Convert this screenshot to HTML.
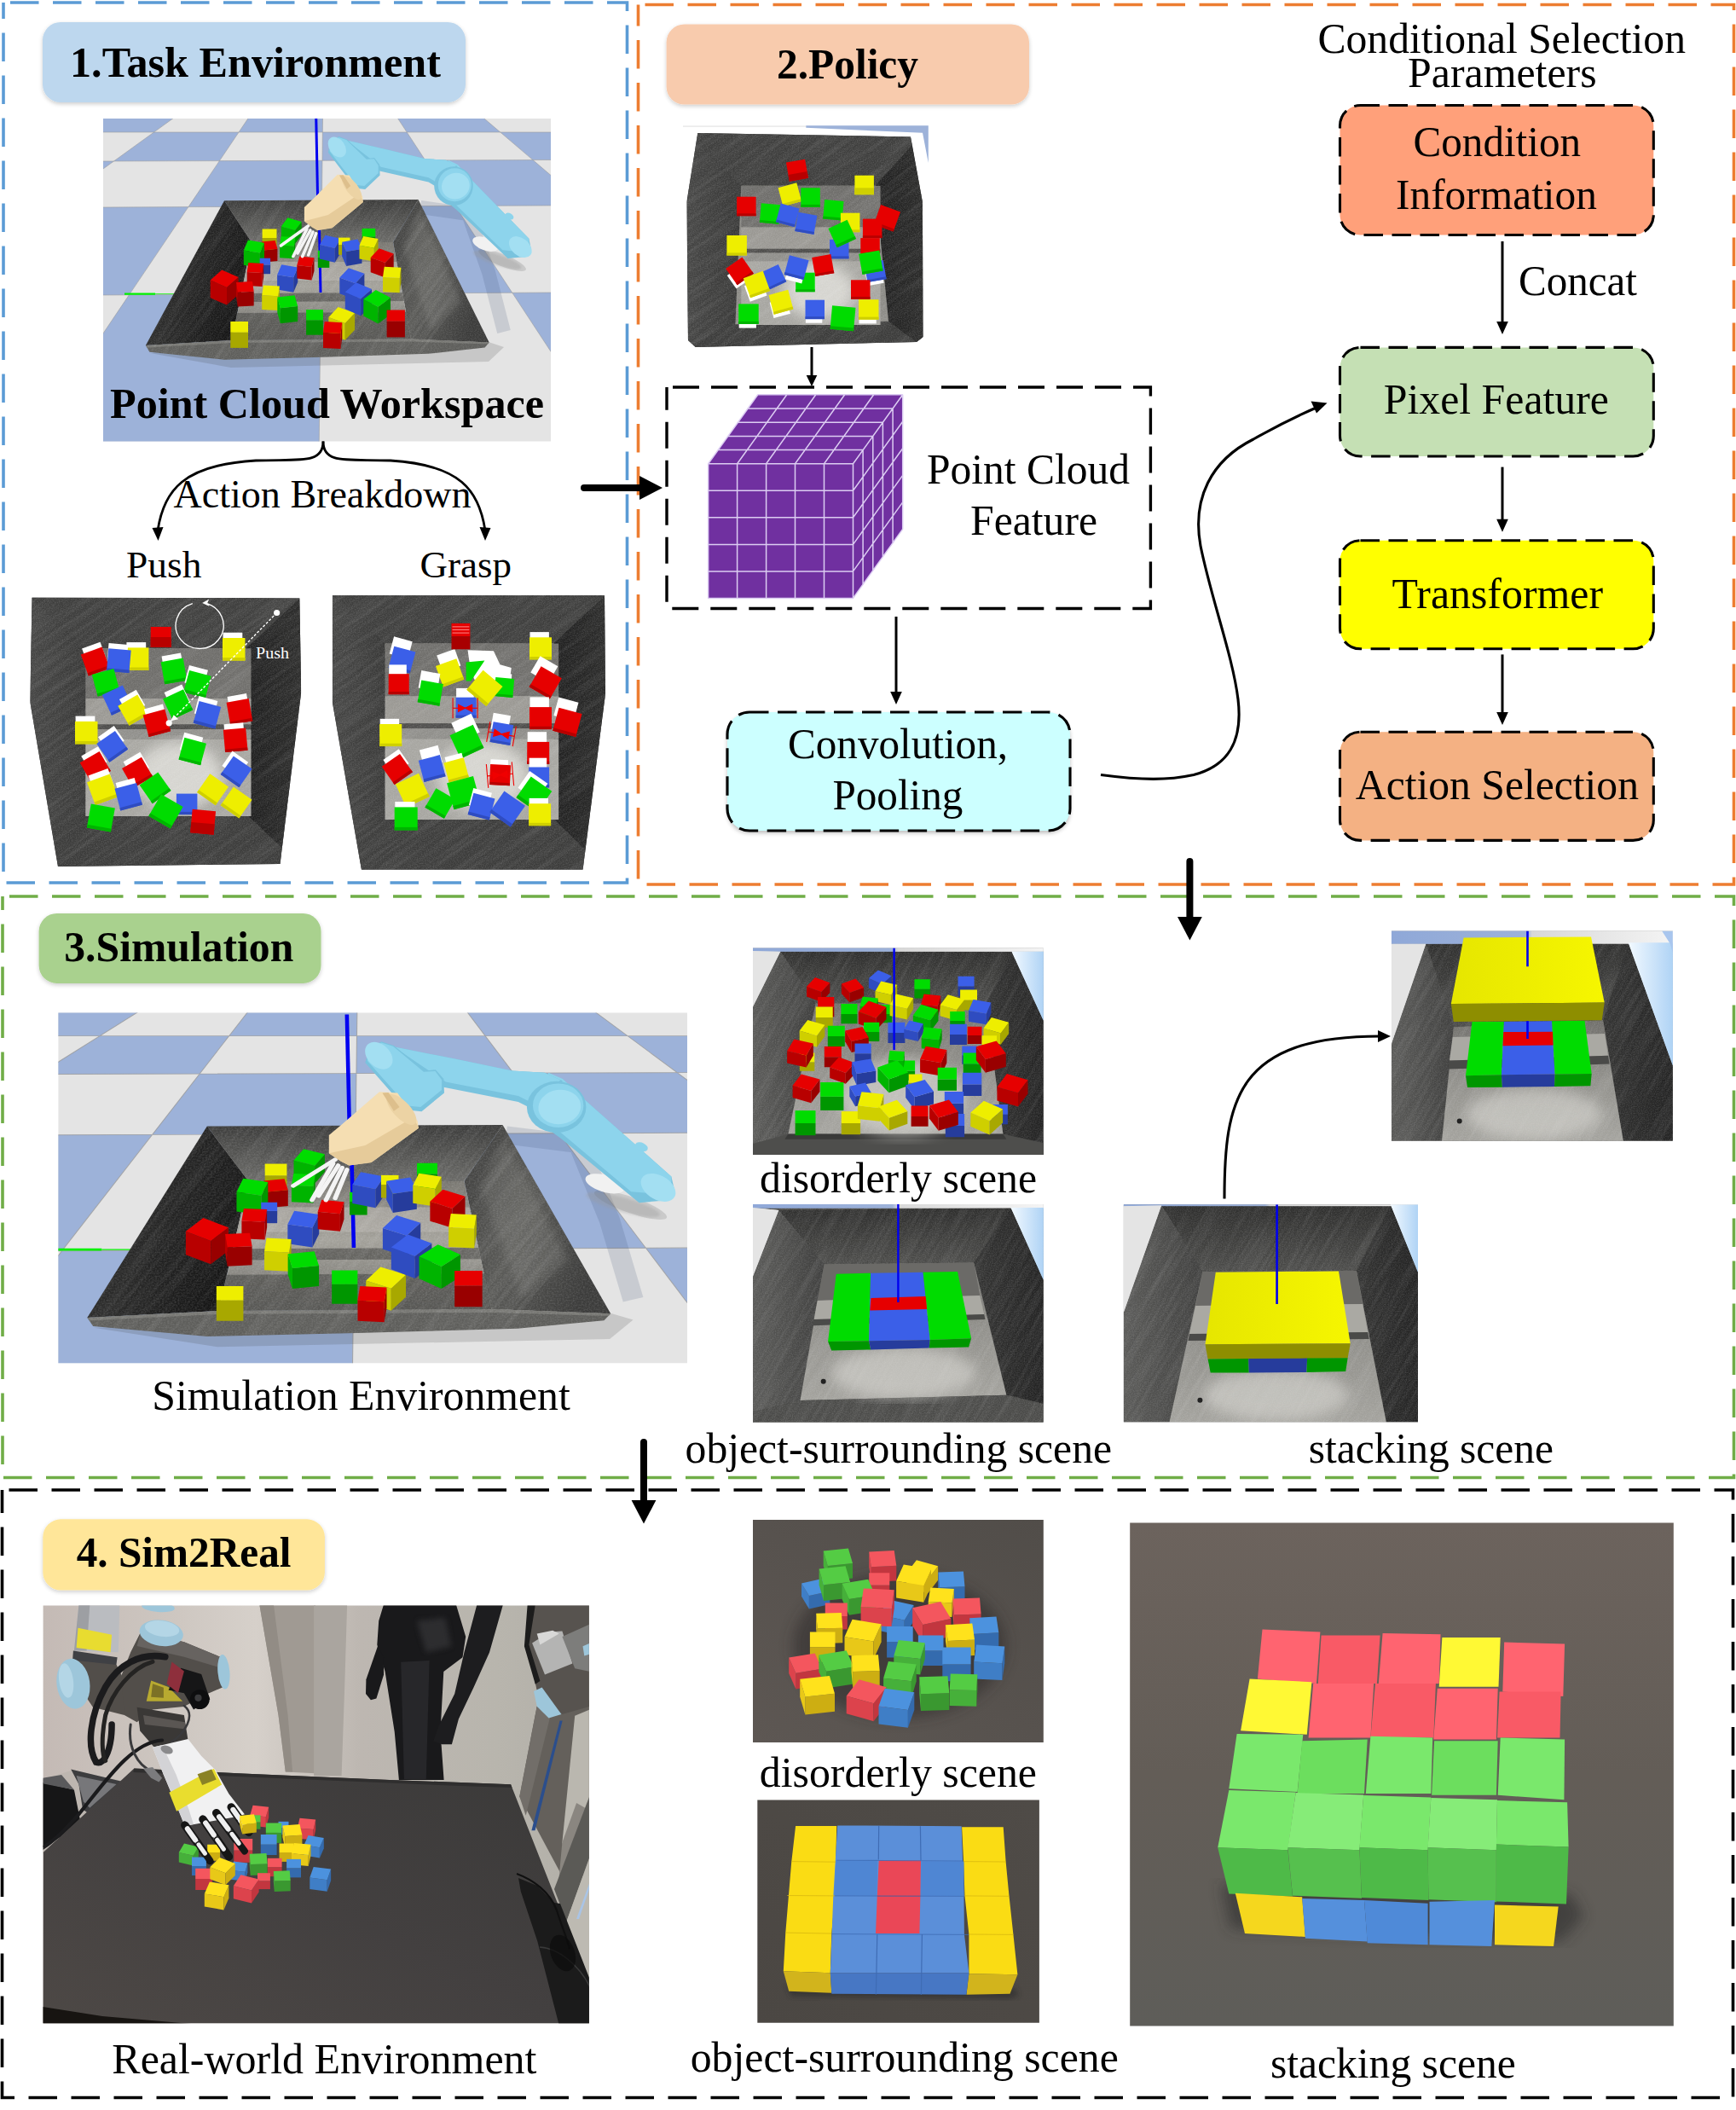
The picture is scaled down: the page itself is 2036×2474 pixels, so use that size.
<!DOCTYPE html>
<html><head><meta charset="utf-8"><title>Framework</title>
<style>html,body{margin:0;padding:0;background:#fff}svg{display:block}text{font-family:'Liberation Serif', 'Times New Roman', serif;white-space:pre}</style>
</head><body>
<svg width="2036" height="2474" viewBox="0 0 2036 2474">
<defs>
<filter id="sh" x="-5%" y="-10%" width="110%" height="125%"><feGaussianBlur in="SourceAlpha" stdDeviation="2.4"/><feOffset dy="2" result="b"/><feComponentTransfer><feFuncA type="linear" slope="0.2"/></feComponentTransfer><feMerge><feMergeNode/><feMergeNode in="SourceGraphic"/></feMerge></filter>
<filter id="sh2" x="-5%" y="-10%" width="110%" height="125%"><feGaussianBlur in="SourceAlpha" stdDeviation="2.5"/><feOffset dy="3"/><feComponentTransfer><feFuncA type="linear" slope="0.25"/></feComponentTransfer></filter>
<filter id="tex" x="0" y="0" width="100%" height="100%"><feTurbulence type="fractalNoise" baseFrequency="0.05 0.5" numOctaves="2" seed="3"/><feColorMatrix values="0 0 0 0 1  0 0 0 0 1  0 0 0 0 1  0.9 0 0 0 -0.35"/><feComposite in2="SourceGraphic" operator="in"/></filter>
<filter id="noise" x="0" y="0" width="100%" height="100%"><feTurbulence type="fractalNoise" baseFrequency="0.75" numOctaves="2" seed="7"/><feColorMatrix type="matrix" values="0 0 0 0 1  0 0 0 0 1  0 0 0 0 1  0 0 0 1.6 -0.55"/></filter>
<filter id="streak" x="0" y="0" width="100%" height="100%"><feTurbulence type="fractalNoise" baseFrequency="0.012 0.22" numOctaves="2" seed="11"/><feColorMatrix type="matrix" values="0 0 0 0 1  0 0 0 0 1  0 0 0 0 1  0 0 0 1.8 -0.7"/></filter>
<filter id="bl1"><feGaussianBlur stdDeviation="1.2"/></filter>
<filter id="bl3"><feGaussianBlur stdDeviation="3"/></filter>
<filter id="bl8"><feGaussianBlur stdDeviation="8"/></filter>
<linearGradient id="gBack" x1="0" y1="0" x2="0" y2="1"><stop offset="0" stop-color="#3b3b3a"/><stop offset="1" stop-color="#6a6a67"/></linearGradient>
<linearGradient id="gLeft" x1="0" y1="0" x2="1" y2="0.4"><stop offset="0" stop-color="#3a3a39"/><stop offset="1" stop-color="#151515"/></linearGradient>
<linearGradient id="gRight" x1="0" y1="0" x2="1" y2="0.5"><stop offset="0" stop-color="#3a3a39"/><stop offset="0.5" stop-color="#5a5a57"/><stop offset="1" stop-color="#3c3c3b"/></linearGradient>
<linearGradient id="gFloor" x1="0" y1="0" x2="0" y2="1"><stop offset="0" stop-color="#77756f"/><stop offset="0.45" stop-color="#a3a19a"/><stop offset="1" stop-color="#6c6b67"/></linearGradient>
<clipPath id="cpE1"><rect x="121" y="139" width="525" height="378.5"/></clipPath>
<clipPath id="cpE3"><rect x="68.4" y="1187.5" width="737.6" height="410.7"/></clipPath>
<linearGradient id="gTL" x1="0" y1="0" x2="1" y2="0"><stop offset="0" stop-color="#454544"/><stop offset="1" stop-color="#373736"/></linearGradient>
<linearGradient id="gTR" x1="0" y1="0" x2="1" y2="0"><stop offset="0" stop-color="#1f1f1f"/><stop offset="1" stop-color="#2b2b2a"/></linearGradient>
<linearGradient id="gStrip" x1="0" y1="0" x2="1" y2="0"><stop offset="0" stop-color="#8FA8D8"/><stop offset="0.48" stop-color="#9DB2D9"/><stop offset="0.5" stop-color="#d8d8d8"/><stop offset="1" stop-color="#f4f4f4"/></linearGradient>
<linearGradient id="gSky" x1="0" y1="0" x2="1" y2="0"><stop offset="0" stop-color="#f2f9ff"/><stop offset="1" stop-color="#AFD3F5"/></linearGradient>
<linearGradient id="gPBack" x1="0" y1="0" x2="0" y2="1"><stop offset="0" stop-color="#2e2e2d"/><stop offset="1" stop-color="#4c4c4a"/></linearGradient>
<linearGradient id="gPL" x1="0" y1="0" x2="1" y2="0"><stop offset="0" stop-color="#5a5a58"/><stop offset="1" stop-color="#3f3f3e"/></linearGradient>
<linearGradient id="gPR" x1="0" y1="0" x2="1" y2="0"><stop offset="0" stop-color="#333332"/><stop offset="1" stop-color="#232323"/></linearGradient>
<linearGradient id="gPFloor" x1="0" y1="0" x2="0" y2="1"><stop offset="0" stop-color="#6f6e6a"/><stop offset="0.5" stop-color="#92918c"/><stop offset="1" stop-color="#a3a29d"/></linearGradient>
<linearGradient id="gYel" x1="0" y1="0" x2="1" y2="0"><stop offset="0" stop-color="#E6E600"/><stop offset="1" stop-color="#F6F600"/></linearGradient>
<clipPath id="cpPush"><polygon points="37.6,700.5 351.3,701.4 353.2,811.7 328.5,1013 68,1016 35.3,823"/></clipPath><clipPath id="cpGrasp"><polygon points="389.8,698 709,698 710,813.6 683.5,1019.8 424,1019.8 389.8,823"/></clipPath><clipPath id="cpPol"><polygon points="818.3,155.9 1068,160.4 1081.9,236.8 1082.7,394.9 1075,401 815.7,407 807,399 805.4,236.8"/></clipPath><clipPath id="cpSD"><rect x="883" y="1111.5" width="340.8" height="242.5"/></clipPath><clipPath id="cpSS"><rect x="883" y="1412" width="340.8" height="255.7"/></clipPath><clipPath id="cpS1"><rect x="1317.7" y="1412.2" width="345.3" height="255.3"/></clipPath><clipPath id="cpS2"><rect x="1631.9" y="1091.5" width="330" height="246.3"/></clipPath><linearGradient id="gWall" x1="0" y1="0" x2="1" y2="0"><stop offset="0" stop-color="#c4bab5"/><stop offset="0.23" stop-color="#cdc6c0"/><stop offset="0.39" stop-color="#d6d0ca"/><stop offset="0.58" stop-color="#bdb7b1"/><stop offset="0.83" stop-color="#b8b5ad"/><stop offset="1" stop-color="#b2afa8"/></linearGradient>
<linearGradient id="gCol" x1="0" y1="0" x2="1" y2="0"><stop offset="0" stop-color="#c8c8ca"/><stop offset="0.5" stop-color="#b2b2b4"/><stop offset="1" stop-color="#9a9a9d"/></linearGradient>
<linearGradient id="gTable" x1="1" y1="0" x2="0" y2="1"><stop offset="0" stop-color="#3a3938"/><stop offset="0.5" stop-color="#434040"/><stop offset="1" stop-color="#4e4946"/></linearGradient>
<linearGradient id="gRD" x1="0" y1="1" x2="1" y2="0"><stop offset="0" stop-color="#5d5753"/><stop offset="1" stop-color="#514d49"/></linearGradient>
<linearGradient id="gRS" x1="0" y1="1" x2="1" y2="0"><stop offset="0" stop-color="#4b4743"/><stop offset="1" stop-color="#4f4b47"/></linearGradient>
<linearGradient id="gRK" x1="0" y1="0" x2="0" y2="1"><stop offset="0" stop-color="#6c635d"/><stop offset="0.5" stop-color="#635d57"/><stop offset="1" stop-color="#5e5d59"/></linearGradient>
<clipPath id="cpRE"><rect x="50.6" y="1882.5" width="640.3" height="489.7"/></clipPath><clipPath id="cpRD"><rect x="883" y="1782" width="340.8" height="261"/></clipPath><clipPath id="cpRS"><rect x="888.3" y="2110.5" width="330.6" height="261.3"/></clipPath><clipPath id="cpRK"><rect x="1325.2" y="1785.6" width="637.6" height="589.8"/></clipPath>
</defs>
<g clip-path="url(#cpE1)"><g transform="translate(121,139)">
<rect x="-40" y="-20" width="620" height="420" fill="#E4E4E4"/>
<polygon points="93.5,-60 164.8,-60 59.5,16 -56.6,16" fill="#9DB2D9"/>
<polygon points="210.3,-60 258.2,-60 257.3,16 159,16" fill="#9DB2D9"/>
<polygon points="306.3,-60 376.6,-60 465.8,16 356.2,16" fill="#9DB2D9"/>
<polygon points="59.5,16 159,16 136.4,49.6 12.5,50" fill="#9DB2D9"/>
<polygon points="257.3,16 356.2,16 377.8,48.9 257,49.3" fill="#9DB2D9"/>
<polygon points="465.8,16 579.4,16 648.5,48.1 504,48.6" fill="#9DB2D9"/>
<polygon points="-124.5,50.4 12.5,50 -62.6,104.2 -232.1,104.9" fill="#9DB2D9"/>
<polygon points="136.4,49.6 257,49.3 256.4,103 99.9,103.6" fill="#9DB2D9"/>
<polygon points="377.8,48.9 504,48.6 566.5,101.8 412.9,102.4" fill="#9DB2D9"/>
<polygon points="-62.6,104.2 99.9,103.6 30.3,206.8 -206.6,208.2" fill="#9DB2D9"/>
<polygon points="256.4,103 412.9,102.4 479.8,204.3 255.2,205.5" fill="#9DB2D9"/>
<polygon points="566.5,101.8 762.4,101.1 978,201.4 685.2,203.1" fill="#9DB2D9"/>
<polygon points="-438.8,209.5 -206.6,208.2 -638.4,520 -1052,520" fill="#9DB2D9"/>
<polygon points="30.3,206.8 255.2,205.5 251.7,520 -180.8,520" fill="#9DB2D9"/>
<polygon points="479.8,204.3 685.2,203.1 1056.9,520 687,520" fill="#9DB2D9"/>
<path d="M164.8 -60L-638.4 520M210.3 -60L-180.8 520M258.2 -60L251.7 520M306.3 -60L687 520M376.6 -60L1056.9 520M0 16L525 16M0 50L525 48.5M0 104L525 102M0 207L525 204" stroke="#9a9a9a" stroke-width="0.7" fill="none" opacity="0.8"/>
<line x1="25" y1="205.6" x2="61" y2="205.6" stroke="#00F000" stroke-width="2.2"/>
<line x1="61" y1="205.6" x2="84" y2="205.6" stroke="#00F000" stroke-width="0.8"/>
<path d="M372 104 L428 112 L452 180 L470 250" stroke="#3a4a70" stroke-opacity="0.16" stroke-width="16" fill="none" stroke-linejoin="round"/>
<ellipse cx="468" cy="166" rx="30" ry="7" fill="#555" opacity="0.18" transform="rotate(22 468 166)"/>
<polygon points="452,262 470,268 452,285 150,292 55,275" fill="#444" opacity="0.18"/>
<polygon points="142.1,96.2 369.6,95 340,145 174,145" fill="url(#gBack)"/>
<polygon points="142.1,96.2 174,145 151,260 49.9,266.1" fill="url(#gLeft)"/>
<polygon points="369.6,95 452.7,262.5 361,258.5 340,145" fill="url(#gRight)"/>
<polygon points="174,145 340,145 361,258.5 151,260" fill="url(#gFloor)"/>
<polygon points="170,168 344,168 348,190 166,190" fill="#b9b7b0" opacity="0.55"/>
<polygon points="163,205 351,204 353,214 161,215" fill="#3c3c3a" opacity="0.55"/>
<polygon points="157,228 356,227 361,258.5 151,260" fill="#50504d" opacity="0.75"/>
<polygon points="352,150 372,110 420,215 385,250" fill="#8a8a86" opacity="0.3" filter="url(#bl3)"/>
<polygon points="49.9,266.1 151,260 361,258.5 452.7,262.5 447.6,268.5 381,275.8 257,279.7 142.1,282.8 54.4,273.7" fill="#5e5e5b"/>
<polygon points="49.9,266.1 151,260 361,258.5 452.7,262.5 451,264.5 360,261.5 152,263 52,268.5" fill="#777773"/>
<clipPath id="cpBin0"><polygon points="142.1,96.2 369.6,95 452.7,262.5 447.6,268.5 381,275.8 257,279.7 142.1,282.8 54.4,273.7 49.9,266.1"/></clipPath>
<g clip-path="url(#cpBin0)"><rect x="40" y="90" width="420" height="200" fill="#fff" filter="url(#noise)" opacity="0.15"/><rect x="0" y="40" width="520" height="300" fill="#fff" filter="url(#streak)" opacity="0.11" transform="rotate(-55 250 190)"/></g>
<line x1="253.3" y1="120" x2="255" y2="204" stroke="#0000F0" stroke-width="3"/>
<polygon points="203.5,140 186.6,140 186.6,154.7 203.5,154.7" fill="#A8A800"/>
<polygon points="203.5,140 186.6,140 186.6,129.5 203.5,129.5" fill="#EEEE00"/>
<polygon points="225.1,131.1 208.8,126.4 208.8,142.1 225.1,146.8" fill="#00B400"/>
<polygon points="232.7,121 225.1,131.1 225.1,146.8 232.7,136.7" fill="#009600"/>
<polygon points="225.1,131.1 208.8,126.4 216.4,116.3 232.7,121" fill="#00DC00"/>
<polygon points="223.9,149.5 207.1,148.6 207.1,163.3 223.9,164.2" fill="#00B400"/>
<polygon points="225.3,139.1 223.9,149.5 223.9,164.2 225.3,153.8" fill="#009600"/>
<polygon points="223.9,149.5 207.1,148.6 208.6,138.2 225.3,139.1" fill="#00DC00"/>
<polygon points="204.4,152.7 188.5,154.5 188.5,168.6 204.4,166.9" fill="#990000"/>
<polygon points="188.5,154.5 185.7,144.6 185.7,158.8 188.5,168.6" fill="#B80000"/>
<polygon points="204.4,152.7 188.5,154.5 185.7,144.6 201.6,142.9" fill="#E60000"/>
<polygon points="183.9,157.6 164.8,154.4 164.8,171.8 183.9,174.9" fill="#00B400"/>
<polygon points="189,145.8 183.9,157.6 183.9,174.9 189,163.1" fill="#009600"/>
<polygon points="183.9,157.6 164.8,154.4 169.9,142.6 189,145.8" fill="#00DC00"/>
<polygon points="196.1,171.4 183.7,171.4 183.7,182.2 196.1,182.2" fill="#263C9C"/>
<polygon points="196.1,171.4 183.7,171.4 183.7,163.7 196.1,163.7" fill="#3B5FE8"/>
<polygon points="186.6,181.1 168.7,180.1 168.7,195.9 186.6,196.9" fill="#B80000"/>
<polygon points="188.2,170 186.6,181.1 186.6,196.9 188.2,185.8" fill="#990000"/>
<polygon points="186.6,181.1 168.7,180.1 170.3,169.1 188.2,170" fill="#E60000"/>
<polygon points="145,197.9 125.7,189.5 125.7,210.2 145,218.6" fill="#B80000"/>
<polygon points="158.6,186 145,197.9 145,218.6 158.6,206.6" fill="#990000"/>
<polygon points="145,197.9 125.7,189.5 139.2,177.6 158.6,186" fill="#E60000"/>
<polygon points="176.7,202.7 157.7,203.7 157.7,220.4 176.7,219.4" fill="#990000"/>
<polygon points="157.7,203.7 156,191.9 156,208.6 157.7,220.4" fill="#B80000"/>
<polygon points="176.7,202.7 157.7,203.7 156,191.9 175,190.9" fill="#E60000"/>
<polygon points="223.2,186.3 204.1,183.2 204.1,200.5 223.2,203.7" fill="#2F4CC0"/>
<polygon points="228.3,174.5 223.2,186.3 223.2,203.7 228.3,191.8" fill="#263C9C"/>
<polygon points="223.2,186.3 204.1,183.2 209.2,171.3 228.3,174.5" fill="#3B5FE8"/>
<polygon points="244.5,174 227.3,172.1 227.3,187.5 244.5,189.4" fill="#B80000"/>
<polygon points="247.5,163.3 244.5,174 244.5,189.4 247.5,178.7" fill="#990000"/>
<polygon points="244.5,174 227.3,172.1 230.3,161.4 247.5,163.3" fill="#E60000"/>
<polygon points="265.3,163.1 251.8,163.1 251.8,174.9 265.3,174.9" fill="#009600"/>
<polygon points="265.3,163.1 251.8,163.1 251.8,154.7 265.3,154.7" fill="#00DC00"/>
<polygon points="205.2,208.2 186.2,207.2 186.2,223.9 205.2,225" fill="#CFCF00"/>
<polygon points="206.9,196.4 205.2,208.2 205.2,225 206.9,213.2" fill="#A8A800"/>
<polygon points="205.2,208.2 186.2,207.2 187.9,195.4 206.9,196.4" fill="#EEEE00"/>
<polygon points="228.2,219.9 207.8,222.2 207.8,240.3 228.2,238" fill="#009600"/>
<polygon points="207.8,222.2 204.3,209.5 204.3,227.6 207.8,240.3" fill="#00B400"/>
<polygon points="228.2,219.9 207.8,222.2 204.3,209.5 224.6,207.3" fill="#00DC00"/>
<polygon points="257.9,236.4 238.1,236.4 238.1,253.7 257.9,253.7" fill="#009600"/>
<polygon points="257.9,236.4 238.1,236.4 238.1,224.1 257.9,224.1" fill="#00DC00"/>
<polygon points="283.8,240.1 264.4,233.1 264.4,252.8 283.8,259.8" fill="#CFCF00"/>
<polygon points="295.1,228 283.8,240.1 283.8,259.8 295.1,247.7" fill="#A8A800"/>
<polygon points="283.8,240.1 264.4,233.1 275.6,221.1 295.1,228" fill="#EEEE00"/>
<polygon points="278.5,251.9 258,250.8 258,268.9 278.5,270" fill="#B80000"/>
<polygon points="280.3,239.2 278.5,251.9 278.5,270 280.3,257.3" fill="#990000"/>
<polygon points="278.5,251.9 258,250.8 259.8,238 280.3,239.2" fill="#E60000"/>
<polygon points="170,250.8 149.3,250.8 149.3,268.9 170,268.9" fill="#A8A800"/>
<polygon points="170,250.8 149.3,250.8 149.3,238 170,238" fill="#EEEE00"/>
<polygon points="271.8,151.9 253.9,147.9 253.9,164.6 271.8,168.7" fill="#2F4CC0"/>
<polygon points="278.4,140.8 271.8,151.9 271.8,168.7 278.4,157.6" fill="#263C9C"/>
<polygon points="271.8,151.9 253.9,147.9 260.4,136.8 278.4,140.8" fill="#3B5FE8"/>
<polygon points="289.5,148 276,148 276,159.8 289.5,159.8" fill="#A8A800"/>
<polygon points="289.5,148 276,148 276,139.6 289.5,139.6" fill="#EEEE00"/>
<polygon points="319.3,138.6 303.6,138.6 303.6,152.4 319.3,152.4" fill="#009600"/>
<polygon points="319.3,138.6 303.6,138.6 303.6,128.9 319.3,128.9" fill="#00DC00"/>
<polygon points="303.5,153.1 285.1,156.1 285.1,172.9 303.5,169.8" fill="#263C9C"/>
<polygon points="285.1,156.1 280.1,144.7 280.1,161.4 285.1,172.9" fill="#2F4CC0"/>
<polygon points="303.5,153.1 285.1,156.1 280.1,144.7 298.6,141.6" fill="#3B5FE8"/>
<polygon points="317.8,151.7 300.5,148.8 300.5,164.5 317.8,167.4" fill="#CFCF00"/>
<polygon points="322.5,140.9 317.8,151.7 317.8,167.4 322.5,156.7" fill="#A8A800"/>
<polygon points="317.8,151.7 300.5,148.8 305.1,138 322.5,140.9" fill="#EEEE00"/>
<polygon points="330.8,169.1 313.7,162.9 313.7,180.3 330.8,186.4" fill="#B80000"/>
<polygon points="340.7,158.4 330.8,169.1 330.8,186.4 340.7,175.8" fill="#990000"/>
<polygon points="330.8,169.1 313.7,162.9 323.6,152.3 340.7,158.4" fill="#E60000"/>
<polygon points="347.7,187 328,185.9 328,203.2 347.7,204.3" fill="#CFCF00"/>
<polygon points="349.4,174.8 347.7,187 347.7,204.3 349.4,192.1" fill="#A8A800"/>
<polygon points="347.7,187 328,185.9 329.7,173.7 349.4,174.8" fill="#EEEE00"/>
<polygon points="295.7,193.2 277.3,186.6 277.3,205.3 295.7,211.9" fill="#2F4CC0"/>
<polygon points="306.4,181.8 295.7,193.2 295.7,211.9 306.4,200.5" fill="#263C9C"/>
<polygon points="295.7,193.2 277.3,186.6 287.9,175.2 306.4,181.8" fill="#3B5FE8"/>
<polygon points="302.1,211.5 283.8,203.6 283.8,223.2 302.1,231.2" fill="#2F4CC0"/>
<polygon points="315,200.1 302.1,211.5 302.1,231.2 315,219.8" fill="#263C9C"/>
<polygon points="302.1,211.5 283.8,203.6 296.6,192.2 315,200.1" fill="#3B5FE8"/>
<polygon points="322.5,220.7 305.3,211.8 305.3,231.5 322.5,240.4" fill="#00B400"/>
<polygon points="337,210.1 322.5,220.7 322.5,240.4 337,229.7" fill="#009600"/>
<polygon points="322.5,220.7 305.3,211.8 319.8,201.1 337,210.1" fill="#00DC00"/>
<polygon points="353.9,237.7 332.6,237.7 332.6,256.4 353.9,256.4" fill="#990000"/>
<polygon points="353.9,237.7 332.6,237.7 332.6,224.5 353.9,224.5" fill="#E60000"/>
<line x1="240.7" y1="125.8" x2="208.4" y2="149" stroke="#f4f4f4" stroke-width="3.6" stroke-linecap="round"/>
<line x1="239" y1="129.4" x2="222.8" y2="161.7" stroke="#f4f4f4" stroke-width="3.6" stroke-linecap="round"/>
<line x1="246" y1="133" x2="233.6" y2="161.7" stroke="#f4f4f4" stroke-width="3.6" stroke-linecap="round"/>
<line x1="249.7" y1="134.7" x2="240.7" y2="160" stroke="#f4f4f4" stroke-width="3.6" stroke-linecap="round"/>
<line x1="243" y1="131" x2="228" y2="158" stroke="#f4f4f4" stroke-width="3.6" stroke-linecap="round"/>
<line x1="249.7" y1="-3" x2="251.6" y2="95" stroke="#0000F0" stroke-width="3"/>
<ellipse cx="462.2" cy="165.8" rx="29.7" ry="6.3" fill="#9a9a9a" transform="rotate(18 462.2 165.8)" opacity="0.35" filter="url(#bl1)"/>
<ellipse cx="448.2" cy="147.1" rx="15.7" ry="7.4" fill="#f1f1f1" transform="rotate(20 448.2 147.1)"/>
<polygon points="401.7,48.7 415.7,54.1 431.2,71.1 499.4,140.8 501.7,152.4 493.2,162.2 474.6,164 414.1,106.8 400.2,95.2 390.9,84.5" fill="#79C3DE"/>
<polygon points="404.8,48.7 415.7,54.1 431.2,71.1 499.4,140.8 499.4,147.1 487,156 468.4,154.2 409.5,97 398.6,88.1" fill="#8DD4EC"/>
<ellipse cx="489.3" cy="150.6" rx="10.2" ry="15.2" fill="#A3DFF2" transform="rotate(-50 489.3 150.6)"/>
<ellipse cx="476.4" cy="114.5" rx="5.3" ry="3.6" fill="#8DD4EC" transform="rotate(30 476.4 114.5)"/>
<polygon points="285.5,25.5 332,36.2 376.9,46.9 401.7,48.7 415.7,55.9 394,81.8 381.6,74.6 324.2,61.6" fill="#79C3DE"/>
<polygon points="285.5,25.5 332,36.2 376.9,46.9 401.7,48.7 414.1,55 392.4,75.5 381.6,69.3 325.8,56.8" fill="#8DD4EC"/>
<ellipse cx="411" cy="79.1" rx="22.8" ry="22.8" fill="#79C3DE" transform="rotate(0 411 79.1)"/>
<ellipse cx="412.3" cy="77.7" rx="19.5" ry="19.5" fill="#8DD4EC" transform="rotate(0 412.3 77.7)"/>
<ellipse cx="413.4" cy="79.1" rx="16.5" ry="15.2" fill="#A3DFF2" transform="rotate(-20 413.4 79.1)"/>
<polygon points="263.8,39.8 266.9,27.3 276.2,21 285.8,24.6 310.3,46.9 318,46 324.2,54.1 324.6,66.6 307.2,83 293.3,81.3 288.6,72.3" fill="#79C3DE"/>
<polygon points="265.4,38 267.7,28.2 276.2,21.9 285.2,25.1 308.8,47.8 317.7,47.3 322.7,55 322.7,63.9 306.4,79.1 294.8,77.7 290.2,70.2" fill="#8DD4EC"/>
<ellipse cx="274.3" cy="33.5" rx="9.1" ry="13.2" fill="#A3DFF2" transform="rotate(-35 274.3 33.5)"/>
<polygon points="245.2,95.2 274.7,65.7 288.6,66.6 304.1,91.6 304.9,97.9 268.5,128.3 251.4,131 245.2,127.4 235.9,120.2 235.9,104.1" fill="#F5DEB2"/>
<polygon points="304.9,97.9 268.5,128.3 251.4,131 245.2,127.4 235.9,120.2 263.8,113.1 301,88.1" fill="#E6CB9A"/>
<ellipse cx="291.7" cy="81.3" rx="6.9" ry="16.5" fill="#ECD3A4" transform="rotate(-38 291.7 81.3)"/>
<polygon points="277,66.6 281.6,66.2 290.2,79.1 285.8,82.7" fill="#DDBf8c"/>
</g></g>
<text x="129" y="490" font-size="50" font-weight="bold" text-anchor="start" fill="#000" textLength="509" lengthAdjust="spacingAndGlyphs">Point Cloud Workspace</text>
<g clip-path="url(#cpE3)"><g transform="translate(26.3,1193.5) scale(1.524,1.321)">
<rect x="-40" y="-20" width="620" height="420" fill="#E4E4E4"/>
<polygon points="93.5,-60 164.8,-60 59.5,16 -56.6,16" fill="#9DB2D9"/>
<polygon points="210.3,-60 258.2,-60 257.3,16 159,16" fill="#9DB2D9"/>
<polygon points="306.3,-60 376.6,-60 465.8,16 356.2,16" fill="#9DB2D9"/>
<polygon points="59.5,16 159,16 136.4,49.6 12.5,50" fill="#9DB2D9"/>
<polygon points="257.3,16 356.2,16 377.8,48.9 257,49.3" fill="#9DB2D9"/>
<polygon points="465.8,16 579.4,16 648.5,48.1 504,48.6" fill="#9DB2D9"/>
<polygon points="-124.5,50.4 12.5,50 -62.6,104.2 -232.1,104.9" fill="#9DB2D9"/>
<polygon points="136.4,49.6 257,49.3 256.4,103 99.9,103.6" fill="#9DB2D9"/>
<polygon points="377.8,48.9 504,48.6 566.5,101.8 412.9,102.4" fill="#9DB2D9"/>
<polygon points="-62.6,104.2 99.9,103.6 30.3,206.8 -206.6,208.2" fill="#9DB2D9"/>
<polygon points="256.4,103 412.9,102.4 479.8,204.3 255.2,205.5" fill="#9DB2D9"/>
<polygon points="566.5,101.8 762.4,101.1 978,201.4 685.2,203.1" fill="#9DB2D9"/>
<polygon points="-438.8,209.5 -206.6,208.2 -638.4,520 -1052,520" fill="#9DB2D9"/>
<polygon points="30.3,206.8 255.2,205.5 251.7,520 -180.8,520" fill="#9DB2D9"/>
<polygon points="479.8,204.3 685.2,203.1 1056.9,520 687,520" fill="#9DB2D9"/>
<path d="M164.8 -60L-638.4 520M210.3 -60L-180.8 520M258.2 -60L251.7 520M306.3 -60L687 520M376.6 -60L1056.9 520M0 16L525 16M0 50L525 48.5M0 104L525 102M0 207L525 204" stroke="#9a9a9a" stroke-width="0.7" fill="none" opacity="0.8"/>
<line x1="25" y1="205.6" x2="61" y2="205.6" stroke="#00F000" stroke-width="2.2"/>
<line x1="61" y1="205.6" x2="84" y2="205.6" stroke="#00F000" stroke-width="0.8"/>
<path d="M372 104 L428 112 L452 180 L470 250" stroke="#3a4a70" stroke-opacity="0.16" stroke-width="16" fill="none" stroke-linejoin="round"/>
<ellipse cx="468" cy="166" rx="30" ry="7" fill="#555" opacity="0.18" transform="rotate(22 468 166)"/>
<polygon points="452,262 470,268 452,285 150,292 55,275" fill="#444" opacity="0.18"/>
<polygon points="142.1,96.2 369.6,95 340,145 174,145" fill="url(#gBack)"/>
<polygon points="142.1,96.2 174,145 151,260 49.9,266.1" fill="url(#gLeft)"/>
<polygon points="369.6,95 452.7,262.5 361,258.5 340,145" fill="url(#gRight)"/>
<polygon points="174,145 340,145 361,258.5 151,260" fill="url(#gFloor)"/>
<polygon points="170,168 344,168 348,190 166,190" fill="#b9b7b0" opacity="0.55"/>
<polygon points="163,205 351,204 353,214 161,215" fill="#3c3c3a" opacity="0.55"/>
<polygon points="157,228 356,227 361,258.5 151,260" fill="#50504d" opacity="0.75"/>
<polygon points="352,150 372,110 420,215 385,250" fill="#8a8a86" opacity="0.3" filter="url(#bl3)"/>
<polygon points="49.9,266.1 151,260 361,258.5 452.7,262.5 447.6,268.5 381,275.8 257,279.7 142.1,282.8 54.4,273.7" fill="#5e5e5b"/>
<polygon points="49.9,266.1 151,260 361,258.5 452.7,262.5 451,264.5 360,261.5 152,263 52,268.5" fill="#777773"/>
<clipPath id="cpBin1"><polygon points="142.1,96.2 369.6,95 452.7,262.5 447.6,268.5 381,275.8 257,279.7 142.1,282.8 54.4,273.7 49.9,266.1"/></clipPath>
<g clip-path="url(#cpBin1)"><rect x="40" y="90" width="420" height="200" fill="#fff" filter="url(#noise)" opacity="0.15"/><rect x="0" y="40" width="520" height="300" fill="#fff" filter="url(#streak)" opacity="0.11" transform="rotate(-55 250 190)"/></g>
<line x1="253.3" y1="120" x2="255" y2="204" stroke="#0000F0" stroke-width="3"/>
<polygon points="203.5,140 186.6,140 186.6,154.7 203.5,154.7" fill="#A8A800"/>
<polygon points="203.5,140 186.6,140 186.6,129.5 203.5,129.5" fill="#EEEE00"/>
<polygon points="225.1,131.1 208.8,126.4 208.8,142.1 225.1,146.8" fill="#00B400"/>
<polygon points="232.7,121 225.1,131.1 225.1,146.8 232.7,136.7" fill="#009600"/>
<polygon points="225.1,131.1 208.8,126.4 216.4,116.3 232.7,121" fill="#00DC00"/>
<polygon points="223.9,149.5 207.1,148.6 207.1,163.3 223.9,164.2" fill="#00B400"/>
<polygon points="225.3,139.1 223.9,149.5 223.9,164.2 225.3,153.8" fill="#009600"/>
<polygon points="223.9,149.5 207.1,148.6 208.6,138.2 225.3,139.1" fill="#00DC00"/>
<polygon points="204.4,152.7 188.5,154.5 188.5,168.6 204.4,166.9" fill="#990000"/>
<polygon points="188.5,154.5 185.7,144.6 185.7,158.8 188.5,168.6" fill="#B80000"/>
<polygon points="204.4,152.7 188.5,154.5 185.7,144.6 201.6,142.9" fill="#E60000"/>
<polygon points="183.9,157.6 164.8,154.4 164.8,171.8 183.9,174.9" fill="#00B400"/>
<polygon points="189,145.8 183.9,157.6 183.9,174.9 189,163.1" fill="#009600"/>
<polygon points="183.9,157.6 164.8,154.4 169.9,142.6 189,145.8" fill="#00DC00"/>
<polygon points="196.1,171.4 183.7,171.4 183.7,182.2 196.1,182.2" fill="#263C9C"/>
<polygon points="196.1,171.4 183.7,171.4 183.7,163.7 196.1,163.7" fill="#3B5FE8"/>
<polygon points="186.6,181.1 168.7,180.1 168.7,195.9 186.6,196.9" fill="#B80000"/>
<polygon points="188.2,170 186.6,181.1 186.6,196.9 188.2,185.8" fill="#990000"/>
<polygon points="186.6,181.1 168.7,180.1 170.3,169.1 188.2,170" fill="#E60000"/>
<polygon points="145,197.9 125.7,189.5 125.7,210.2 145,218.6" fill="#B80000"/>
<polygon points="158.6,186 145,197.9 145,218.6 158.6,206.6" fill="#990000"/>
<polygon points="145,197.9 125.7,189.5 139.2,177.6 158.6,186" fill="#E60000"/>
<polygon points="176.7,202.7 157.7,203.7 157.7,220.4 176.7,219.4" fill="#990000"/>
<polygon points="157.7,203.7 156,191.9 156,208.6 157.7,220.4" fill="#B80000"/>
<polygon points="176.7,202.7 157.7,203.7 156,191.9 175,190.9" fill="#E60000"/>
<polygon points="223.2,186.3 204.1,183.2 204.1,200.5 223.2,203.7" fill="#2F4CC0"/>
<polygon points="228.3,174.5 223.2,186.3 223.2,203.7 228.3,191.8" fill="#263C9C"/>
<polygon points="223.2,186.3 204.1,183.2 209.2,171.3 228.3,174.5" fill="#3B5FE8"/>
<polygon points="244.5,174 227.3,172.1 227.3,187.5 244.5,189.4" fill="#B80000"/>
<polygon points="247.5,163.3 244.5,174 244.5,189.4 247.5,178.7" fill="#990000"/>
<polygon points="244.5,174 227.3,172.1 230.3,161.4 247.5,163.3" fill="#E60000"/>
<polygon points="265.3,163.1 251.8,163.1 251.8,174.9 265.3,174.9" fill="#009600"/>
<polygon points="265.3,163.1 251.8,163.1 251.8,154.7 265.3,154.7" fill="#00DC00"/>
<polygon points="205.2,208.2 186.2,207.2 186.2,223.9 205.2,225" fill="#CFCF00"/>
<polygon points="206.9,196.4 205.2,208.2 205.2,225 206.9,213.2" fill="#A8A800"/>
<polygon points="205.2,208.2 186.2,207.2 187.9,195.4 206.9,196.4" fill="#EEEE00"/>
<polygon points="228.2,219.9 207.8,222.2 207.8,240.3 228.2,238" fill="#009600"/>
<polygon points="207.8,222.2 204.3,209.5 204.3,227.6 207.8,240.3" fill="#00B400"/>
<polygon points="228.2,219.9 207.8,222.2 204.3,209.5 224.6,207.3" fill="#00DC00"/>
<polygon points="257.9,236.4 238.1,236.4 238.1,253.7 257.9,253.7" fill="#009600"/>
<polygon points="257.9,236.4 238.1,236.4 238.1,224.1 257.9,224.1" fill="#00DC00"/>
<polygon points="283.8,240.1 264.4,233.1 264.4,252.8 283.8,259.8" fill="#CFCF00"/>
<polygon points="295.1,228 283.8,240.1 283.8,259.8 295.1,247.7" fill="#A8A800"/>
<polygon points="283.8,240.1 264.4,233.1 275.6,221.1 295.1,228" fill="#EEEE00"/>
<polygon points="278.5,251.9 258,250.8 258,268.9 278.5,270" fill="#B80000"/>
<polygon points="280.3,239.2 278.5,251.9 278.5,270 280.3,257.3" fill="#990000"/>
<polygon points="278.5,251.9 258,250.8 259.8,238 280.3,239.2" fill="#E60000"/>
<polygon points="170,250.8 149.3,250.8 149.3,268.9 170,268.9" fill="#A8A800"/>
<polygon points="170,250.8 149.3,250.8 149.3,238 170,238" fill="#EEEE00"/>
<polygon points="271.8,151.9 253.9,147.9 253.9,164.6 271.8,168.7" fill="#2F4CC0"/>
<polygon points="278.4,140.8 271.8,151.9 271.8,168.7 278.4,157.6" fill="#263C9C"/>
<polygon points="271.8,151.9 253.9,147.9 260.4,136.8 278.4,140.8" fill="#3B5FE8"/>
<polygon points="289.5,148 276,148 276,159.8 289.5,159.8" fill="#A8A800"/>
<polygon points="289.5,148 276,148 276,139.6 289.5,139.6" fill="#EEEE00"/>
<polygon points="319.3,138.6 303.6,138.6 303.6,152.4 319.3,152.4" fill="#009600"/>
<polygon points="319.3,138.6 303.6,138.6 303.6,128.9 319.3,128.9" fill="#00DC00"/>
<polygon points="303.5,153.1 285.1,156.1 285.1,172.9 303.5,169.8" fill="#263C9C"/>
<polygon points="285.1,156.1 280.1,144.7 280.1,161.4 285.1,172.9" fill="#2F4CC0"/>
<polygon points="303.5,153.1 285.1,156.1 280.1,144.7 298.6,141.6" fill="#3B5FE8"/>
<polygon points="317.8,151.7 300.5,148.8 300.5,164.5 317.8,167.4" fill="#CFCF00"/>
<polygon points="322.5,140.9 317.8,151.7 317.8,167.4 322.5,156.7" fill="#A8A800"/>
<polygon points="317.8,151.7 300.5,148.8 305.1,138 322.5,140.9" fill="#EEEE00"/>
<polygon points="330.8,169.1 313.7,162.9 313.7,180.3 330.8,186.4" fill="#B80000"/>
<polygon points="340.7,158.4 330.8,169.1 330.8,186.4 340.7,175.8" fill="#990000"/>
<polygon points="330.8,169.1 313.7,162.9 323.6,152.3 340.7,158.4" fill="#E60000"/>
<polygon points="347.7,187 328,185.9 328,203.2 347.7,204.3" fill="#CFCF00"/>
<polygon points="349.4,174.8 347.7,187 347.7,204.3 349.4,192.1" fill="#A8A800"/>
<polygon points="347.7,187 328,185.9 329.7,173.7 349.4,174.8" fill="#EEEE00"/>
<polygon points="295.7,193.2 277.3,186.6 277.3,205.3 295.7,211.9" fill="#2F4CC0"/>
<polygon points="306.4,181.8 295.7,193.2 295.7,211.9 306.4,200.5" fill="#263C9C"/>
<polygon points="295.7,193.2 277.3,186.6 287.9,175.2 306.4,181.8" fill="#3B5FE8"/>
<polygon points="302.1,211.5 283.8,203.6 283.8,223.2 302.1,231.2" fill="#2F4CC0"/>
<polygon points="315,200.1 302.1,211.5 302.1,231.2 315,219.8" fill="#263C9C"/>
<polygon points="302.1,211.5 283.8,203.6 296.6,192.2 315,200.1" fill="#3B5FE8"/>
<polygon points="322.5,220.7 305.3,211.8 305.3,231.5 322.5,240.4" fill="#00B400"/>
<polygon points="337,210.1 322.5,220.7 322.5,240.4 337,229.7" fill="#009600"/>
<polygon points="322.5,220.7 305.3,211.8 319.8,201.1 337,210.1" fill="#00DC00"/>
<polygon points="353.9,237.7 332.6,237.7 332.6,256.4 353.9,256.4" fill="#990000"/>
<polygon points="353.9,237.7 332.6,237.7 332.6,224.5 353.9,224.5" fill="#E60000"/>
<line x1="240.7" y1="125.8" x2="208.4" y2="149" stroke="#f4f4f4" stroke-width="3.6" stroke-linecap="round"/>
<line x1="239" y1="129.4" x2="222.8" y2="161.7" stroke="#f4f4f4" stroke-width="3.6" stroke-linecap="round"/>
<line x1="246" y1="133" x2="233.6" y2="161.7" stroke="#f4f4f4" stroke-width="3.6" stroke-linecap="round"/>
<line x1="249.7" y1="134.7" x2="240.7" y2="160" stroke="#f4f4f4" stroke-width="3.6" stroke-linecap="round"/>
<line x1="243" y1="131" x2="228" y2="158" stroke="#f4f4f4" stroke-width="3.6" stroke-linecap="round"/>
<line x1="249.7" y1="-3" x2="251.6" y2="95" stroke="#0000F0" stroke-width="3"/>
<ellipse cx="462.2" cy="165.8" rx="29.7" ry="6.3" fill="#9a9a9a" transform="rotate(18 462.2 165.8)" opacity="0.35" filter="url(#bl1)"/>
<ellipse cx="448.2" cy="147.1" rx="15.7" ry="7.4" fill="#f1f1f1" transform="rotate(20 448.2 147.1)"/>
<polygon points="401.7,48.7 415.7,54.1 431.2,71.1 499.4,140.8 501.7,152.4 493.2,162.2 474.6,164 414.1,106.8 400.2,95.2 390.9,84.5" fill="#79C3DE"/>
<polygon points="404.8,48.7 415.7,54.1 431.2,71.1 499.4,140.8 499.4,147.1 487,156 468.4,154.2 409.5,97 398.6,88.1" fill="#8DD4EC"/>
<ellipse cx="489.3" cy="150.6" rx="10.2" ry="15.2" fill="#A3DFF2" transform="rotate(-50 489.3 150.6)"/>
<ellipse cx="476.4" cy="114.5" rx="5.3" ry="3.6" fill="#8DD4EC" transform="rotate(30 476.4 114.5)"/>
<polygon points="285.5,25.5 332,36.2 376.9,46.9 401.7,48.7 415.7,55.9 394,81.8 381.6,74.6 324.2,61.6" fill="#79C3DE"/>
<polygon points="285.5,25.5 332,36.2 376.9,46.9 401.7,48.7 414.1,55 392.4,75.5 381.6,69.3 325.8,56.8" fill="#8DD4EC"/>
<ellipse cx="411" cy="79.1" rx="22.8" ry="22.8" fill="#79C3DE" transform="rotate(0 411 79.1)"/>
<ellipse cx="412.3" cy="77.7" rx="19.5" ry="19.5" fill="#8DD4EC" transform="rotate(0 412.3 77.7)"/>
<ellipse cx="413.4" cy="79.1" rx="16.5" ry="15.2" fill="#A3DFF2" transform="rotate(-20 413.4 79.1)"/>
<polygon points="263.8,39.8 266.9,27.3 276.2,21 285.8,24.6 310.3,46.9 318,46 324.2,54.1 324.6,66.6 307.2,83 293.3,81.3 288.6,72.3" fill="#79C3DE"/>
<polygon points="265.4,38 267.7,28.2 276.2,21.9 285.2,25.1 308.8,47.8 317.7,47.3 322.7,55 322.7,63.9 306.4,79.1 294.8,77.7 290.2,70.2" fill="#8DD4EC"/>
<ellipse cx="274.3" cy="33.5" rx="9.1" ry="13.2" fill="#A3DFF2" transform="rotate(-35 274.3 33.5)"/>
<polygon points="245.2,95.2 274.7,65.7 288.6,66.6 304.1,91.6 304.9,97.9 268.5,128.3 251.4,131 245.2,127.4 235.9,120.2 235.9,104.1" fill="#F5DEB2"/>
<polygon points="304.9,97.9 268.5,128.3 251.4,131 245.2,127.4 235.9,120.2 263.8,113.1 301,88.1" fill="#E6CB9A"/>
<ellipse cx="291.7" cy="81.3" rx="6.9" ry="16.5" fill="#ECD3A4" transform="rotate(-38 291.7 81.3)"/>
<polygon points="277,66.6 281.6,66.2 290.2,79.1 285.8,82.7" fill="#DDBf8c"/>
</g></g>
<g clip-path="url(#cpPush)">
<rect x="35.3" y="700.5" width="317.9" height="315.5" fill="#3a3a3a"/>
<polygon points="35.3,700.5 353.2,700.5 288.5,760.3 100.3,760.3" fill="#3e3e3d"/>
<polygon points="35.3,700.5 100.3,760.3 106,956 35.3,1016" fill="url(#gTL)"/>
<polygon points="353.2,700.5 353.2,1016 290.4,956 288.5,760.3" fill="url(#gTR)"/>
<polygon points="35.3,1016 106,956 290.4,956 353.2,1016" fill="#3c3c3b"/>
<polygon points="100.3,760.3 288.5,760.3 290.4,956 106,956" fill="#8b8a85"/>
<rect x="100.3" y="760.3" width="194.2" height="58.7" fill="#6f6e6b"/>
<rect x="100.3" y="819" width="194.2" height="31.3" fill="#9a9893"/>
<rect x="100.3" y="849.3" width="194.2" height="5.9" fill="#4e4d4b"/>
<rect x="100.3" y="855.2" width="194.2" height="11.7" fill="#8f8e8a"/>
<rect x="100.3" y="867" width="194.2" height="90" fill="#a7a6a1"/>
<ellipse cx="209.5" cy="909" rx="50.8" ry="39.1" fill="#e6e5e0" opacity="0.75" filter="url(#bl8)"/>
<rect x="35.3" y="700.5" width="317.9" height="315.5" fill="#fff" filter="url(#noise)" opacity="0.16"/>
<rect x="-24.7" y="640.5" width="437.9" height="435.5" fill="#fff" filter="url(#streak)" opacity="0.1" transform="rotate(-35 194.2 858.2)"/>
<rect x="176.7" y="735" width="24" height="24" fill="#E60000" transform="rotate(0 188.7 747)"/>
<rect x="176.7" y="747" width="24" height="12" fill="#B80000" transform="rotate(0 188.7 753)"/>
<rect x="99" y="755.9" width="22.8" height="21.2" fill="#fff" transform="rotate(-20 110.4 766.5)"/>
<rect x="98.5" y="762.3" width="26.5" height="26.5" fill="#E60000" transform="rotate(-20 111.7 775.5)"/>
<rect x="102.4" y="784.7" width="26.5" height="3.4" fill="#B80000" transform="rotate(-20 115.7 786.4)"/>
<rect x="148.4" y="753.1" width="22.8" height="21.2" fill="#fff" transform="rotate(0 159.8 763.7)"/>
<rect x="147.9" y="759.4" width="26.5" height="26.5" fill="#EEEE00" transform="rotate(0 161.2 772.7)"/>
<rect x="147.9" y="782.5" width="26.5" height="3.4" fill="#CFCF00" transform="rotate(0 161.2 784.2)"/>
<rect x="126.6" y="755" width="22.8" height="21.2" fill="#fff" transform="rotate(5 138 765.6)"/>
<rect x="126.1" y="761.3" width="26.5" height="26.5" fill="#3B5FE8" transform="rotate(5 139.3 774.6)"/>
<rect x="125" y="784.4" width="26.5" height="3.4" fill="#2F4CC0" transform="rotate(5 138.3 786.1)"/>
<rect x="261.5" y="741.7" width="22.8" height="21.2" fill="#fff" transform="rotate(0 272.9 752.3)"/>
<rect x="261" y="748" width="26.5" height="26.5" fill="#EEEE00" transform="rotate(0 274.3 761.3)"/>
<rect x="261" y="771.1" width="26.5" height="3.4" fill="#CFCF00" transform="rotate(0 274.3 772.8)"/>
<rect x="191.2" y="767.3" width="22.8" height="21.2" fill="#fff" transform="rotate(-10 202.6 777.9)"/>
<rect x="190.7" y="773.7" width="26.5" height="26.5" fill="#00DC00" transform="rotate(-10 203.9 786.9)"/>
<rect x="192.7" y="796.6" width="26.5" height="3.4" fill="#00B400" transform="rotate(-10 205.9 798.3)"/>
<rect x="218.8" y="782.5" width="22.8" height="21.2" fill="#fff" transform="rotate(15 230.2 793.1)"/>
<rect x="218.2" y="788.9" width="26.5" height="26.5" fill="#00DC00" transform="rotate(15 231.5 802.2)"/>
<rect x="215.3" y="811.6" width="26.5" height="3.4" fill="#00B400" transform="rotate(15 228.5 813.3)"/>
<rect x="110.8" y="787" width="26.5" height="26.5" fill="#00DC00" transform="rotate(-15 124.1 800.3)"/>
<rect x="113.8" y="809.7" width="26.5" height="3.4" fill="#00B400" transform="rotate(-15 127.1 811.4)"/>
<rect x="124.2" y="807.9" width="26.5" height="26.5" fill="#3B5FE8" transform="rotate(-25 137.4 821.2)"/>
<rect x="129" y="829.9" width="26.5" height="3.4" fill="#2F4CC0" transform="rotate(-25 142.3 831.6)"/>
<rect x="196" y="806.3" width="22.8" height="21.2" fill="#fff" transform="rotate(-25 207.4 816.9)"/>
<rect x="195.4" y="812.7" width="26.5" height="26.5" fill="#00DC00" transform="rotate(-25 208.7 825.9)"/>
<rect x="200.3" y="834.6" width="26.5" height="3.4" fill="#00B400" transform="rotate(-25 213.6 836.4)"/>
<rect x="143.7" y="813" width="22.8" height="21.2" fill="#fff" transform="rotate(-30 155.1 823.6)"/>
<rect x="143.2" y="819.3" width="26.5" height="26.5" fill="#EEEE00" transform="rotate(-30 156.4 832.6)"/>
<rect x="148.9" y="840.8" width="26.5" height="3.4" fill="#CFCF00" transform="rotate(-30 162.2 842.6)"/>
<rect x="171.3" y="828.2" width="22.8" height="21.2" fill="#fff" transform="rotate(-15 182.6 838.8)"/>
<rect x="170.7" y="834.5" width="26.5" height="26.5" fill="#E60000" transform="rotate(-15 184 847.8)"/>
<rect x="173.7" y="857.2" width="26.5" height="3.4" fill="#B80000" transform="rotate(-15 187 858.9)"/>
<rect x="230.2" y="818.7" width="22.8" height="21.2" fill="#fff" transform="rotate(15 241.6 829.3)"/>
<rect x="229.7" y="825" width="26.5" height="26.5" fill="#3B5FE8" transform="rotate(15 242.9 838.3)"/>
<rect x="226.7" y="847.7" width="26.5" height="3.4" fill="#2F4CC0" transform="rotate(15 239.9 849.4)"/>
<rect x="268.2" y="814.9" width="22.8" height="21.2" fill="#fff" transform="rotate(-10 279.6 825.5)"/>
<rect x="267.7" y="821.2" width="26.5" height="26.5" fill="#E60000" transform="rotate(-10 280.9 834.5)"/>
<rect x="269.7" y="844.1" width="26.5" height="3.4" fill="#B80000" transform="rotate(-10 282.9 845.8)"/>
<rect x="88.6" y="839.6" width="22.8" height="21.2" fill="#fff" transform="rotate(0 100 850.2)"/>
<rect x="88" y="845.9" width="26.5" height="26.5" fill="#EEEE00" transform="rotate(0 101.3 859.2)"/>
<rect x="88" y="869" width="26.5" height="3.4" fill="#CFCF00" transform="rotate(0 101.3 870.7)"/>
<rect x="119" y="855.7" width="22.8" height="21.2" fill="#fff" transform="rotate(-35 130.4 866.3)"/>
<rect x="118.4" y="862.1" width="26.5" height="26.5" fill="#3B5FE8" transform="rotate(-35 131.7 875.3)"/>
<rect x="125.1" y="883.1" width="26.5" height="3.4" fill="#2F4CC0" transform="rotate(-35 138.3 884.8)"/>
<rect x="213.1" y="861.4" width="22.8" height="21.2" fill="#fff" transform="rotate(15 224.5 872)"/>
<rect x="212.5" y="867.8" width="26.5" height="26.5" fill="#00DC00" transform="rotate(15 225.8 881)"/>
<rect x="209.6" y="890.5" width="26.5" height="3.4" fill="#00B400" transform="rotate(15 222.8 892.2)"/>
<rect x="263.4" y="848.1" width="22.8" height="21.2" fill="#fff" transform="rotate(-5 274.8 858.7)"/>
<rect x="262.9" y="854.5" width="26.5" height="26.5" fill="#E60000" transform="rotate(-5 276.2 867.7)"/>
<rect x="263.9" y="877.5" width="26.5" height="3.4" fill="#B80000" transform="rotate(-5 277.2 879.2)"/>
<rect x="99" y="879.5" width="22.8" height="21.2" fill="#fff" transform="rotate(-30 110.4 890.1)"/>
<rect x="98.5" y="885.9" width="26.5" height="26.5" fill="#E60000" transform="rotate(-30 111.7 899.1)"/>
<rect x="104.3" y="907.4" width="26.5" height="3.4" fill="#B80000" transform="rotate(-30 117.5 909.1)"/>
<rect x="148.4" y="886.1" width="22.8" height="21.2" fill="#fff" transform="rotate(-30 159.8 896.7)"/>
<rect x="147.9" y="892.5" width="26.5" height="26.5" fill="#E60000" transform="rotate(-30 161.2 905.8)"/>
<rect x="153.7" y="914" width="26.5" height="3.4" fill="#B80000" transform="rotate(-30 166.9 915.7)"/>
<rect x="264.4" y="885.2" width="22.8" height="21.2" fill="#fff" transform="rotate(35 275.8 895.8)"/>
<rect x="263.9" y="891.6" width="26.5" height="26.5" fill="#3B5FE8" transform="rotate(35 277.1 904.8)"/>
<rect x="257.3" y="912.5" width="26.5" height="3.4" fill="#2F4CC0" transform="rotate(35 270.5 914.2)"/>
<rect x="106.6" y="904.6" width="24.5" height="22.8" fill="#fff" transform="rotate(-20 118.9 916)"/>
<rect x="106" y="911.5" width="28.5" height="28.5" fill="#EEEE00" transform="rotate(-20 120.3 925.7)"/>
<rect x="110.3" y="935.5" width="28.5" height="3.7" fill="#CFCF00" transform="rotate(-20 124.5 937.4)"/>
<rect x="138" y="914.7" width="22.8" height="21.2" fill="#fff" transform="rotate(-15 149.4 925.3)"/>
<rect x="137.5" y="921" width="26.5" height="26.5" fill="#3B5FE8" transform="rotate(-15 150.7 934.3)"/>
<rect x="140.4" y="943.7" width="26.5" height="3.4" fill="#2F4CC0" transform="rotate(-15 153.7 945.4)"/>
<rect x="168.8" y="910.6" width="26.5" height="26.5" fill="#00DC00" transform="rotate(-35 182.1 923.8)"/>
<rect x="175.4" y="931.5" width="26.5" height="3.4" fill="#00B400" transform="rotate(-35 188.7 933.3)"/>
<rect x="236.3" y="912.5" width="26.5" height="26.5" fill="#EEEE00" transform="rotate(35 249.6 925.7)"/>
<rect x="229.7" y="933.4" width="26.5" height="3.4" fill="#CFCF00" transform="rotate(35 242.9 935.2)"/>
<rect x="263.9" y="927.7" width="26.5" height="26.5" fill="#EEEE00" transform="rotate(35 277.1 940.9)"/>
<rect x="257.3" y="948.6" width="26.5" height="3.4" fill="#CFCF00" transform="rotate(35 270.5 950.4)"/>
<rect x="206.9" y="930.6" width="24.5" height="24.5" fill="#3B5FE8" transform="rotate(0 219.1 942.8)"/>
<rect x="206.9" y="951.9" width="24.5" height="3.2" fill="#2F4CC0" transform="rotate(0 219.1 953.5)"/>
<rect x="179.7" y="936.6" width="29.5" height="29.5" fill="#00DC00" transform="rotate(30 194.4 951.4)"/>
<rect x="173.3" y="960.6" width="29.5" height="3.8" fill="#00B400" transform="rotate(30 188 962.5)"/>
<rect x="104.1" y="944.7" width="28.5" height="28.5" fill="#00DC00" transform="rotate(10 118.4 959)"/>
<rect x="102" y="969.3" width="28.5" height="3.7" fill="#00B400" transform="rotate(10 116.2 971.2)"/>
<rect x="224.4" y="950" width="27.5" height="27.5" fill="#E60000" transform="rotate(5 238.2 963.7)"/>
<rect x="223.7" y="965.1" width="27.5" height="12.4" fill="#B80000" transform="rotate(5 237.5 971.3)"/>
</g>
<path d="M225.8 707.7 A28 27 0 1 0 240.1 707.1" fill="none" stroke="#fff" stroke-width="1.3"/>
<polygon points="237.2,707.1 245.2,702.6 243.2,707.1 245.7,711.1" fill="#fff"/>
<line x1="324.6" y1="718.5" x2="198.2" y2="847.8" stroke="#fff" stroke-width="1.4" stroke-dasharray="3 2"/>
<circle cx="324.6" cy="718.5" r="3.6" fill="#fff"/><circle cx="198.2" cy="847.8" r="3.6" fill="#fff"/>
<polygon points="200.2,845.3 209.2,843.3 203.7,838.3" fill="#fff"/>
<text x="300" y="771.7" font-size="18.5" text-anchor="start" fill="#fff" textLength="39" lengthAdjust="spacingAndGlyphs">Push</text>
<g clip-path="url(#cpGrasp)">
<rect x="389.8" y="698" width="320.2" height="321.8" fill="#3a3a3a"/>
<polygon points="389.8,698 710,698 649.2,754.6 451.5,754.6" fill="#3e3e3d"/>
<polygon points="389.8,698 451.5,754.6 461,960 389.8,1019.8" fill="url(#gTL)"/>
<polygon points="710,698 710,1019.8 649.2,960 649.2,754.6" fill="url(#gTR)"/>
<polygon points="389.8,1019.8 461,960 649.2,960 710,1019.8" fill="#3c3c3b"/>
<polygon points="451.5,754.6 649.2,754.6 649.2,960 461,960" fill="#8b8a85"/>
<rect x="451.5" y="754.6" width="203.7" height="61.6" fill="#6f6e6b"/>
<rect x="451.5" y="816.2" width="203.7" height="32.9" fill="#9a9893"/>
<rect x="451.5" y="848.1" width="203.7" height="6.2" fill="#4e4d4b"/>
<rect x="451.5" y="854.2" width="203.7" height="12.3" fill="#8f8e8a"/>
<rect x="451.5" y="866.5" width="203.7" height="94.5" fill="#a7a6a1"/>
<ellipse cx="566.2" cy="910.7" rx="53.4" ry="41.1" fill="#e6e5e0" opacity="0.75" filter="url(#bl8)"/>
<rect x="389.8" y="698" width="320.2" height="321.8" fill="#fff" filter="url(#noise)" opacity="0.16"/>
<rect x="329.8" y="638" width="440.2" height="441.8" fill="#fff" filter="url(#streak)" opacity="0.1" transform="rotate(-35 549.9 858.9)"/>
<polygon points="548.5,762.2 578.9,763.2 586.5,779.3 599.8,783.1 597.9,796.5 584.6,792.6 575.1,804.1 556.1,796.5 550.4,775.5" fill="#fff"/>
<polygon points="546.6,776.5 568.4,774.6 552.3,798.4 546.6,798.4" fill="#00DC00"/>
<rect x="459" y="748.9" width="22.4" height="20.8" fill="#fff" transform="rotate(15 470.2 759.3)"/>
<rect x="458.5" y="760.6" width="26" height="26" fill="#3B5FE8" transform="rotate(15 471.5 773.6)"/>
<rect x="455.6" y="782.9" width="26" height="3.4" fill="#2F4CC0" transform="rotate(15 468.6 784.6)"/>
<rect x="456.2" y="779.4" width="20.6" height="19.2" fill="#fff" transform="rotate(0 466.5 789)"/>
<rect x="455.7" y="790.2" width="24" height="24" fill="#E60000" transform="rotate(0 467.7 802.2)"/>
<rect x="455.7" y="811" width="24" height="3.1" fill="#B80000" transform="rotate(0 467.7 812.6)"/>
<rect x="515.1" y="764.1" width="22.4" height="20.8" fill="#fff" transform="rotate(-20 526.3 774.5)"/>
<rect x="514.6" y="775.8" width="26" height="26" fill="#EEEE00" transform="rotate(-20 527.6 788.8)"/>
<rect x="518.4" y="797.8" width="26" height="3.4" fill="#CFCF00" transform="rotate(-20 531.4 799.5)"/>
<rect x="621.5" y="741.1" width="22.4" height="20.8" fill="#fff" transform="rotate(0 632.7 751.5)"/>
<rect x="621" y="747.3" width="26" height="26" fill="#EEEE00" transform="rotate(0 634 760.3)"/>
<rect x="621" y="770" width="26" height="3.4" fill="#CFCF00" transform="rotate(0 634 771.6)"/>
<rect x="580.7" y="789.7" width="18.9" height="17.6" fill="#fff" transform="rotate(5 590.2 798.5)"/>
<rect x="580.3" y="795" width="22" height="22" fill="#00DC00" transform="rotate(5 591.3 806)"/>
<rect x="579.4" y="814.1" width="22" height="2.9" fill="#00B400" transform="rotate(5 590.4 815.5)"/>
<rect x="492.3" y="787.9" width="22.4" height="20.8" fill="#fff" transform="rotate(10 503.5 798.3)"/>
<rect x="491.8" y="799.6" width="26" height="26" fill="#00DC00" transform="rotate(10 504.8 812.6)"/>
<rect x="489.8" y="822.1" width="26" height="3.4" fill="#00B400" transform="rotate(10 502.8 823.7)"/>
<rect x="535.1" y="806.9" width="20.6" height="19.2" fill="#fff" transform="rotate(0 545.4 816.5)"/>
<rect x="534.6" y="817.7" width="24" height="24" fill="#3B5FE8" transform="rotate(0 546.6 829.7)"/>
<rect x="534.6" y="838.6" width="24" height="3.1" fill="#2F4CC0" transform="rotate(0 546.6 840.2)"/>
<rect x="626.3" y="773.7" width="24.1" height="22.4" fill="#fff" transform="rotate(30 638.3 784.9)"/>
<rect x="625.7" y="786.3" width="28" height="28" fill="#E60000" transform="rotate(30 639.7 800.3)"/>
<rect x="619.6" y="809" width="28" height="3.6" fill="#B80000" transform="rotate(30 633.6 810.8)"/>
<rect x="621.5" y="817.4" width="22.4" height="20.8" fill="#fff" transform="rotate(0 632.7 827.8)"/>
<rect x="621" y="829.1" width="26" height="26" fill="#E60000" transform="rotate(0 634 842.1)"/>
<rect x="621" y="851.7" width="26" height="3.4" fill="#B80000" transform="rotate(0 634 853.4)"/>
<rect x="651.9" y="820.2" width="24.1" height="22.4" fill="#fff" transform="rotate(15 664 831.4)"/>
<rect x="651.4" y="832.8" width="28" height="28" fill="#E60000" transform="rotate(15 665.4 846.8)"/>
<rect x="648.2" y="856.8" width="28" height="3.6" fill="#B80000" transform="rotate(15 662.2 858.6)"/>
<rect x="445.7" y="842.8" width="22.4" height="20.8" fill="#fff" transform="rotate(0 456.9 853.2)"/>
<rect x="445.2" y="849" width="26" height="26" fill="#EEEE00" transform="rotate(0 458.2 862)"/>
<rect x="445.2" y="871.7" width="26" height="3.4" fill="#CFCF00" transform="rotate(0 458.2 873.3)"/>
<rect x="533.1" y="841.1" width="25.8" height="24" fill="#fff" transform="rotate(-25 546 853.1)"/>
<rect x="532.5" y="854.6" width="30" height="30" fill="#00DC00" transform="rotate(-25 547.5 869.6)"/>
<rect x="538" y="879.5" width="30" height="3.9" fill="#00B400" transform="rotate(-25 553 881.5)"/>
<rect x="576.9" y="837.3" width="20.6" height="19.2" fill="#fff" transform="rotate(10 587.2 846.9)"/>
<rect x="576.4" y="848.1" width="24" height="24" fill="#3B5FE8" transform="rotate(10 588.4 860.1)"/>
<rect x="574.6" y="868.9" width="24" height="3.1" fill="#2F4CC0" transform="rotate(10 586.6 870.4)"/>
<rect x="618.7" y="858.2" width="22.4" height="20.8" fill="#fff" transform="rotate(0 629.9 868.6)"/>
<rect x="618.2" y="869.9" width="26" height="26" fill="#E60000" transform="rotate(0 631.2 882.9)"/>
<rect x="618.2" y="892.6" width="26" height="3.4" fill="#B80000" transform="rotate(0 631.2 894.3)"/>
<rect x="453.3" y="882.7" width="22.4" height="20.8" fill="#fff" transform="rotate(-35 464.5 893.1)"/>
<rect x="452.8" y="889" width="26" height="26" fill="#E60000" transform="rotate(-35 465.8 902)"/>
<rect x="459.3" y="909.5" width="26" height="3.4" fill="#B80000" transform="rotate(-35 472.3 911.2)"/>
<rect x="494.2" y="876.3" width="22.4" height="20.8" fill="#fff" transform="rotate(-15 505.4 886.7)"/>
<rect x="493.7" y="888" width="26" height="26" fill="#3B5FE8" transform="rotate(-15 506.7 901)"/>
<rect x="496.6" y="910.2" width="26" height="3.4" fill="#2F4CC0" transform="rotate(-15 509.6 911.9)"/>
<rect x="523.7" y="885.1" width="20.6" height="19.2" fill="#fff" transform="rotate(-15 534 894.7)"/>
<rect x="523.2" y="890.9" width="24" height="24" fill="#EEEE00" transform="rotate(-15 535.2 902.9)"/>
<rect x="525.9" y="911.4" width="24" height="3.1" fill="#CFCF00" transform="rotate(-15 537.9 913)"/>
<rect x="575" y="890.8" width="20.6" height="19.2" fill="#fff" transform="rotate(3 585.3 900.4)"/>
<rect x="574.5" y="896.6" width="24" height="24" fill="#E60000" transform="rotate(3 586.5 908.6)"/>
<rect x="574" y="917.5" width="24" height="3.1" fill="#B80000" transform="rotate(3 586 919)"/>
<rect x="620.6" y="888.7" width="20.6" height="19.2" fill="#fff" transform="rotate(0 630.9 898.3)"/>
<rect x="620.1" y="899.5" width="24" height="24" fill="#3B5FE8" transform="rotate(0 632.1 911.5)"/>
<rect x="620.1" y="920.3" width="24" height="3.1" fill="#2F4CC0" transform="rotate(0 632.1 921.9)"/>
<rect x="468.8" y="911.7" width="30" height="30" fill="#EEEE00" transform="rotate(-25 483.8 926.7)"/>
<rect x="474.4" y="936.5" width="30" height="3.9" fill="#CFCF00" transform="rotate(-25 489.4 938.5)"/>
<rect x="527.7" y="913.5" width="32" height="32" fill="#00DC00" transform="rotate(-15 543.7 929.5)"/>
<rect x="531.3" y="940.9" width="32" height="4.2" fill="#00B400" transform="rotate(-15 547.3 943)"/>
<rect x="503.2" y="928.9" width="26" height="26" fill="#00DC00" transform="rotate(30 516.2 941.9)"/>
<rect x="497.5" y="950" width="26" height="3.4" fill="#00B400" transform="rotate(30 510.5 951.7)"/>
<rect x="552.2" y="926.4" width="22.4" height="20.8" fill="#fff" transform="rotate(15 563.3 936.8)"/>
<rect x="551.6" y="932.7" width="26" height="26" fill="#3B5FE8" transform="rotate(15 564.6 945.7)"/>
<rect x="548.7" y="954.9" width="26" height="3.4" fill="#2F4CC0" transform="rotate(15 561.7 956.6)"/>
<rect x="612" y="909.2" width="25.8" height="24" fill="#fff" transform="rotate(35 624.9 921.2)"/>
<rect x="611.4" y="916.4" width="30" height="30" fill="#00DC00" transform="rotate(35 626.4 931.4)"/>
<rect x="603.9" y="940.2" width="30" height="3.9" fill="#00B400" transform="rotate(35 618.9 942.1)"/>
<rect x="580.1" y="933.5" width="30" height="30" fill="#3B5FE8" transform="rotate(35 595.1 948.5)"/>
<rect x="572.6" y="957.3" width="30" height="3.9" fill="#2F4CC0" transform="rotate(35 587.6 959.2)"/>
<rect x="620.6" y="935.9" width="22.4" height="20.8" fill="#fff" transform="rotate(0 631.8 946.3)"/>
<rect x="620.1" y="942.2" width="26" height="26" fill="#EEEE00" transform="rotate(0 633.1 955.2)"/>
<rect x="620.1" y="964.8" width="26" height="3.4" fill="#CFCF00" transform="rotate(0 633.1 966.5)"/>
<rect x="463.3" y="940" width="23.2" height="21.6" fill="#fff" transform="rotate(0 474.9 950.8)"/>
<rect x="462.7" y="946.4" width="27" height="27" fill="#00DC00" transform="rotate(0 476.2 959.9)"/>
<rect x="462.7" y="969.9" width="27" height="3.5" fill="#00B400" transform="rotate(0 476.2 971.7)"/>
<rect x="553.4" y="791.9" width="30" height="30" fill="#EEEE00" transform="rotate(40 568.4 806.9)"/>
<rect x="545.1" y="815" width="30" height="3.9" fill="#CFCF00" transform="rotate(40 560.1 816.9)"/>
</g>
<rect x="529.5" y="730.9" width="21.9" height="15.2" fill="#E60000"/>
<rect x="529.5" y="746.1" width="21.9" height="15.2" fill="#A80000"/>
<line x1="530.5" y1="734.9" x2="550.3" y2="734.9" stroke="#ff9c9c" stroke-width="0.9"/>
<line x1="530.5" y1="738.5" x2="550.3" y2="738.5" stroke="#ff9c9c" stroke-width="0.9"/>
<line x1="530.5" y1="742.1" x2="550.3" y2="742.1" stroke="#ff9c9c" stroke-width="0.9"/>
<g transform="rotate(0 545.6 830.3)" stroke="#F00000" stroke-width="1.1" fill="#F00000">
<line x1="531.1" y1="818.3" x2="531.1" y2="842.3"/>
<line x1="560.1" y1="818.3" x2="560.1" y2="842.3"/>
<line x1="531.1" y1="830.3" x2="560.1" y2="830.3"/>
<polygon points="537.5,826.3 545.6,830.3 537.5,834.3" fill="#F00000"/>
<polygon points="553.7,826.3 545.6,830.3 553.7,834.3" fill="#F00000"/>
</g>
<g transform="rotate(10 588 860.7)" stroke="#F00000" stroke-width="1.1" fill="#F00000">
<line x1="572.5" y1="848.7" x2="572.5" y2="872.7"/>
<line x1="603.5" y1="848.7" x2="603.5" y2="872.7"/>
<line x1="572.5" y1="860.7" x2="603.5" y2="860.7"/>
<polygon points="579.3,856.7 588,860.7 579.3,864.7" fill="#F00000"/>
<polygon points="596.7,856.7 588,860.7 596.7,864.7" fill="#F00000"/>
</g>
<g transform="rotate(-5 586.5 908.6)" stroke="#F00000" stroke-width="1.1" fill="#F00000">
<line x1="571.5" y1="894.6" x2="571.5" y2="922.6"/>
<line x1="601.5" y1="894.6" x2="601.5" y2="922.6"/>
<line x1="571.5" y1="908.6" x2="601.5" y2="908.6"/>
<polygon points="578.1,904.6 586.5,908.6 578.1,912.6" fill="#F00000"/>
<polygon points="594.9,904.6 586.5,908.6 594.9,912.6" fill="#F00000"/>
</g>
<polygon points="801,147.3 945.3,147.3 945.3,149 801,149" fill="#ececec"/>
<polygon points="945.3,147.3 1088.8,147.3 1088.8,191 1082,155.8 945.3,149.8" fill="#9DB2D9"/>
<g clip-path="url(#cpPol)">
<rect x="805.4" y="155.9" width="277.3" height="251.1" fill="#3a3a3a"/>
<polygon points="805.4,155.9 1082.7,155.9 1026.6,217.8 869.3,217.8" fill="#3e3e3d"/>
<polygon points="805.4,155.9 869.3,217.8 862.4,380.2 805.4,407" fill="url(#gTL)"/>
<polygon points="1082.7,155.9 1082.7,407 1042,376.8 1026.6,217.8" fill="url(#gTR)"/>
<polygon points="805.4,407 862.4,380.2 1042,376.8 1082.7,407" fill="#3c3c3b"/>
<polygon points="869.3,217.8 1026.6,217.8 1042,376.8 862.4,380.2" fill="#8b8a85"/>
<rect x="869.3" y="217.8" width="163.3" height="48.7" fill="#6f6e6b"/>
<rect x="869.3" y="266.5" width="163.3" height="26" fill="#9a9893"/>
<rect x="869.3" y="291.7" width="163.3" height="4.9" fill="#4e4d4b"/>
<rect x="869.3" y="296.6" width="163.3" height="9.7" fill="#8f8e8a"/>
<rect x="869.3" y="306.3" width="163.3" height="74.7" fill="#a7a6a1"/>
<ellipse cx="960.5" cy="341.2" rx="42.5" ry="32.5" fill="#e6e5e0" opacity="0.75" filter="url(#bl8)"/>
<rect x="805.4" y="155.9" width="277.3" height="251.1" fill="#fff" filter="url(#noise)" opacity="0.16"/>
<rect x="745.4" y="95.9" width="397.3" height="371.1" fill="#fff" filter="url(#streak)" opacity="0.1" transform="rotate(-35 944 281.4)"/>
<rect x="923.7" y="188.4" width="22.5" height="22.5" fill="#E60000" transform="rotate(-10 935 199.6)"/>
<rect x="925" y="202.9" width="22.5" height="7.9" fill="#B80000" transform="rotate(-10 936.2 206.8)"/>
<rect x="915.1" y="216.9" width="22.5" height="22.5" fill="#EEEE00" transform="rotate(-15 926.3 228.1)"/>
<rect x="917.6" y="236.1" width="22.5" height="2.9" fill="#CFCF00" transform="rotate(-15 928.9 237.6)"/>
<rect x="939.3" y="220.3" width="22.5" height="22.5" fill="#00DC00" transform="rotate(0 950.5 231.6)"/>
<rect x="939.3" y="239.9" width="22.5" height="2.9" fill="#00B400" transform="rotate(0 950.5 241.4)"/>
<rect x="1002.4" y="205.7" width="22.5" height="22.5" fill="#EEEE00" transform="rotate(0 1013.6 216.9)"/>
<rect x="1002.4" y="220.3" width="22.5" height="7.9" fill="#CFCF00" transform="rotate(0 1013.6 224.2)"/>
<rect x="864.1" y="230.7" width="22.5" height="22.5" fill="#E60000" transform="rotate(0 875.4 242)"/>
<rect x="864.1" y="250.3" width="22.5" height="2.9" fill="#B80000" transform="rotate(0 875.4 251.7)"/>
<rect x="891.8" y="239.3" width="22.5" height="22.5" fill="#00DC00" transform="rotate(5 903 250.6)"/>
<rect x="890.9" y="258.9" width="22.5" height="2.9" fill="#00B400" transform="rotate(5 902.2 260.3)"/>
<rect x="912.5" y="241.1" width="22.5" height="22.5" fill="#3B5FE8" transform="rotate(15 923.7 252.3)"/>
<rect x="910" y="260.3" width="22.5" height="2.9" fill="#2F4CC0" transform="rotate(15 921.2 261.8)"/>
<rect x="934.1" y="250.6" width="22.5" height="22.5" fill="#3B5FE8" transform="rotate(10 945.3 261.8)"/>
<rect x="932.4" y="270" width="22.5" height="2.9" fill="#2F4CC0" transform="rotate(10 943.6 271.5)"/>
<rect x="966.1" y="235" width="22.5" height="22.5" fill="#00DC00" transform="rotate(5 977.3 246.3)"/>
<rect x="965.2" y="254.6" width="22.5" height="2.9" fill="#00B400" transform="rotate(5 976.5 256)"/>
<rect x="985.9" y="249.7" width="22.5" height="22.5" fill="#EEEE00" transform="rotate(0 997.2 261)"/>
<rect x="985.9" y="269.3" width="22.5" height="2.9" fill="#CFCF00" transform="rotate(0 997.2 270.8)"/>
<rect x="1028.1" y="243.5" width="24.5" height="24.5" fill="#E60000" transform="rotate(20 1040.4 255.8)"/>
<rect x="1024.5" y="264.2" width="24.5" height="3.2" fill="#B80000" transform="rotate(20 1036.7 265.8)"/>
<rect x="1011.9" y="256.6" width="22.5" height="22.5" fill="#E60000" transform="rotate(0 1023.1 267.9)"/>
<rect x="1011.9" y="276.2" width="22.5" height="2.9" fill="#B80000" transform="rotate(0 1023.1 277.7)"/>
<rect x="973" y="280.8" width="22.5" height="22.5" fill="#3B5FE8" transform="rotate(0 984.2 292.1)"/>
<rect x="973" y="300.4" width="22.5" height="2.9" fill="#2F4CC0" transform="rotate(0 984.2 301.9)"/>
<rect x="975.4" y="261.7" width="24.5" height="24.5" fill="#00DC00" transform="rotate(-25 987.7 273.9)"/>
<rect x="979.9" y="282" width="24.5" height="3.2" fill="#00B400" transform="rotate(-25 992.2 283.6)"/>
<rect x="852.4" y="276" width="23.5" height="23.5" fill="#EEEE00" transform="rotate(0 864.1 287.8)"/>
<rect x="852.4" y="296.4" width="23.5" height="3.1" fill="#CFCF00" transform="rotate(0 864.1 298)"/>
<rect x="1009.3" y="279.1" width="22.5" height="22.5" fill="#E60000" transform="rotate(0 1020.5 290.3)"/>
<rect x="1009.3" y="298.7" width="22.5" height="2.9" fill="#B80000" transform="rotate(0 1020.5 300.1)"/>
<rect x="1015.8" y="315.7" width="19.4" height="18" fill="#fff" transform="rotate(-10 1025.4 324.7)"/>
<rect x="1015.3" y="306.7" width="22.5" height="22.5" fill="#3B5FE8" transform="rotate(-10 1026.6 318)"/>
<rect x="1017" y="326.2" width="22.5" height="2.9" fill="#2F4CC0" transform="rotate(-10 1028.3 327.6)"/>
<rect x="1009.1" y="295.4" width="24.5" height="24.5" fill="#00DC00" transform="rotate(-10 1021.4 307.6)"/>
<rect x="1011" y="316.5" width="24.5" height="3.2" fill="#00B400" transform="rotate(-10 1023.2 318.1)"/>
<rect x="954" y="299.8" width="22.5" height="22.5" fill="#E60000" transform="rotate(-10 965.2 311.1)"/>
<rect x="955.7" y="319.3" width="22.5" height="2.9" fill="#B80000" transform="rotate(-10 966.9 320.7)"/>
<rect x="933.2" y="319.7" width="22.5" height="22.5" fill="#00DC00" transform="rotate(0 944.5 331)"/>
<rect x="933.2" y="339.3" width="22.5" height="2.9" fill="#00B400" transform="rotate(0 944.5 340.7)"/>
<rect x="922.8" y="311.3" width="20.2" height="18.8" fill="#fff" transform="rotate(15 932.9 320.7)"/>
<rect x="922.4" y="301.9" width="23.5" height="23.5" fill="#3B5FE8" transform="rotate(15 934.1 313.7)"/>
<rect x="919.7" y="322" width="23.5" height="3.1" fill="#2F4CC0" transform="rotate(15 931.5 323.5)"/>
<rect x="856.3" y="315.6" width="20.2" height="18.8" fill="#fff" transform="rotate(-35 866.4 325)"/>
<rect x="855.8" y="306.2" width="23.5" height="23.5" fill="#E60000" transform="rotate(-35 867.6 318)"/>
<rect x="861.7" y="324.8" width="23.5" height="3.1" fill="#B80000" transform="rotate(-35 873.4 326.4)"/>
<rect x="896.1" y="313.7" width="22.5" height="22.5" fill="#3B5FE8" transform="rotate(-25 907.3 324.9)"/>
<rect x="900.2" y="332.3" width="22.5" height="2.9" fill="#2F4CC0" transform="rotate(-25 911.5 333.8)"/>
<rect x="875.7" y="331.1" width="21.1" height="19.6" fill="#fff" transform="rotate(-20 886.2 340.9)"/>
<rect x="875.2" y="321.3" width="24.5" height="24.5" fill="#EEEE00" transform="rotate(-20 887.5 333.5)"/>
<rect x="878.8" y="342" width="24.5" height="3.2" fill="#CFCF00" transform="rotate(-20 891.1 343.6)"/>
<rect x="998" y="328.3" width="22.5" height="22.5" fill="#E60000" transform="rotate(0 1009.3 339.6)"/>
<rect x="998" y="347.9" width="22.5" height="2.9" fill="#B80000" transform="rotate(0 1009.3 349.4)"/>
<rect x="904.7" y="351.9" width="20.2" height="18.8" fill="#fff" transform="rotate(-15 914.8 361.3)"/>
<rect x="904.2" y="342.5" width="23.5" height="23.5" fill="#EEEE00" transform="rotate(-15 916 354.3)"/>
<rect x="906.9" y="362.6" width="23.5" height="3.1" fill="#CFCF00" transform="rotate(-15 918.6 364.2)"/>
<rect x="1007.5" y="360.6" width="20.2" height="18.8" fill="#fff" transform="rotate(0 1017.6 370)"/>
<rect x="1007" y="351.2" width="23.5" height="23.5" fill="#EEEE00" transform="rotate(0 1018.8 362.9)"/>
<rect x="1007" y="371.6" width="23.5" height="3.1" fill="#CFCF00" transform="rotate(0 1018.8 373.1)"/>
<rect x="944.9" y="360.7" width="19.4" height="18" fill="#fff" transform="rotate(0 954.6 369.7)"/>
<rect x="944.5" y="351.7" width="22.5" height="22.5" fill="#3B5FE8" transform="rotate(0 955.7 362.9)"/>
<rect x="944.5" y="371.2" width="22.5" height="2.9" fill="#2F4CC0" transform="rotate(0 955.7 372.7)"/>
<rect x="866.7" y="365.8" width="20.2" height="18.8" fill="#fff" transform="rotate(0 876.8 375.2)"/>
<rect x="866.2" y="356.4" width="23.5" height="23.5" fill="#00DC00" transform="rotate(0 877.9 368.1)"/>
<rect x="866.2" y="376.8" width="23.5" height="3.1" fill="#00B400" transform="rotate(0 877.9 378.3)"/>
<rect x="974.8" y="359.5" width="27.5" height="27.5" fill="#00DC00" transform="rotate(5 988.5 373.3)"/>
<rect x="973.8" y="383.4" width="27.5" height="3.6" fill="#00B400" transform="rotate(5 987.5 385.2)"/>
</g>
<g clip-path="url(#cpSD)">
<rect x="883" y="1111.5" width="340.8" height="242.5" fill="#4a4a48"/>
<rect x="883" y="1111.5" width="340.8" height="4.2" fill="url(#gStrip)"/>
<polygon points="883,1115.1 915.3,1115.7 883,1180.6" fill="#E4E4E4"/>
<polygon points="1186.5,1115.7 1223.8,1115.7 1223.8,1196.7" fill="url(#gSky)"/>
<polygon points="915.3,1115.7 1186.5,1115.7 1156.2,1176.6 956.6,1176.6" fill="url(#gPBack)"/>
<polygon points="915.3,1115.7 956.6,1176.6 924.4,1329.8 883,1354 883,1180.6" fill="url(#gPL)"/>
<polygon points="1186.5,1115.7 1223.8,1196.7 1223.8,1354 1176.4,1329.8 1156.2,1176.6" fill="url(#gPR)"/>
<polygon points="956.6,1176.6 1156.2,1176.6 1176.4,1329.8 924.4,1329.8" fill="url(#gPFloor)"/>
<polygon points="924.4,1329.8 1176.4,1329.8 1223.8,1343.9 1223.8,1354 883,1354 883,1345.9" fill="#4b4b49"/>
<rect x="883" y="1115.7" width="340.8" height="238.3" fill="#fff" filter="url(#noise)" opacity="0.15"/>
<rect x="803" y="1031.5" width="500.8" height="402.5" fill="#fff" filter="url(#streak)" opacity="0.1" transform="rotate(-60 1053.4 1232.8)" clip-path="none"/>
<rect x="883" y="1111.5" width="340.8" height="4.2" fill="url(#gStrip)"/>
<polygon points="883,1115.1 915.3,1115.7 883,1180.6" fill="#E4E4E4"/>
<polygon points="1186.5,1115.7 1223.8,1115.7 1223.8,1196.7" fill="url(#gSky)"/>
<polygon points="883,1340.9 924.4,1329.8 1176.4,1329.8 1223.8,1339.9 1223.8,1354 883,1354" fill="#4e4e4c"/>
<polygon points="924.4,1329.8 1176.4,1329.8 1180.4,1335.8 920.3,1335.8" fill="#3a3a39"/>
<ellipse cx="1059.5" cy="1287.5" rx="75" ry="45" fill="#dcdbd6" opacity="0.6" filter="url(#bl8)"/>
<polygon points="963.3,1162.9 946,1156.8 946,1168.6 963.3,1174.8" fill="#B80000"/>
<polygon points="973.3,1152.2 963.3,1162.9 963.3,1174.8 973.3,1164.1" fill="#990000"/>
<polygon points="963.3,1162.9 946,1156.8 956,1146 973.3,1152.2" fill="#E60000"/>
<polygon points="1013.1,1157.9 996.5,1163.9 996.5,1175.2 1013.1,1169.3" fill="#990000"/>
<polygon points="996.5,1163.9 986.9,1153.6 986.9,1164.9 996.5,1175.2" fill="#B80000"/>
<polygon points="1013.1,1157.9 996.5,1163.9 986.9,1153.6 1003.5,1147.6" fill="#E60000"/>
<polygon points="1034.6,1153.9 1018.9,1147.1 1018.9,1158.5 1034.6,1165.3" fill="#2F4CC0"/>
<polygon points="1045.6,1144.2 1034.6,1153.9 1034.6,1165.3 1045.6,1155.6" fill="#263C9C"/>
<polygon points="1034.6,1153.9 1018.9,1147.1 1029.9,1137.4 1045.6,1144.2" fill="#3B5FE8"/>
<polygon points="1090.8,1159.7 1072.4,1159.7 1072.4,1170.6 1090.8,1170.6" fill="#009600"/>
<polygon points="1090.8,1159.7 1072.4,1159.7 1072.4,1148.3 1090.8,1148.3" fill="#00DC00"/>
<polygon points="1142.6,1156.6 1123.5,1156.6 1123.5,1168 1142.6,1168" fill="#263C9C"/>
<polygon points="1142.6,1156.6 1123.5,1156.6 1123.5,1144.8 1142.6,1144.8" fill="#3B5FE8"/>
<polygon points="1045.3,1166.5 1026.5,1162.2 1026.5,1174.1 1045.3,1178.3" fill="#CFCF00"/>
<polygon points="1052.1,1154.8 1045.3,1166.5 1045.3,1178.3 1052.1,1166.7" fill="#A8A800"/>
<polygon points="1045.3,1166.5 1026.5,1162.2 1033.3,1150.6 1052.1,1154.8" fill="#EEEE00"/>
<polygon points="978.3,1180.8 959.1,1180.8 959.1,1192.2 978.3,1192.2" fill="#990000"/>
<polygon points="978.3,1180.8 959.1,1180.8 959.1,1169 978.3,1169" fill="#E60000"/>
<polygon points="976.7,1192.9 956.7,1192.9 956.7,1204.8 976.7,1204.8" fill="#A8A800"/>
<polygon points="976.7,1192.9 956.7,1192.9 956.7,1180.6 976.7,1180.6" fill="#EEEE00"/>
<polygon points="1005.5,1188.9 986.4,1188.9 986.4,1200.3 1005.5,1200.3" fill="#009600"/>
<polygon points="1005.5,1188.9 986.4,1188.9 986.4,1177 1005.5,1177" fill="#00DC00"/>
<polygon points="1026.6,1181.7 1008.5,1179.7 1008.5,1190.7 1026.6,1192.6" fill="#00B400"/>
<polygon points="1029.8,1170.5 1026.6,1181.7 1026.6,1192.6 1029.8,1181.4" fill="#009600"/>
<polygon points="1026.6,1181.7 1008.5,1179.7 1011.7,1168.5 1029.8,1170.5" fill="#00DC00"/>
<polygon points="1046.1,1188.9 1028.5,1188.9 1028.5,1199.3 1046.1,1199.3" fill="#009600"/>
<polygon points="1046.1,1188.9 1028.5,1188.9 1028.5,1178 1046.1,1178" fill="#00DC00"/>
<polygon points="1063.9,1182.7 1043.6,1178.2 1043.6,1191 1063.9,1195.5" fill="#CFCF00"/>
<polygon points="1071.2,1170.2 1063.9,1182.7 1063.9,1195.5 1071.2,1183" fill="#A8A800"/>
<polygon points="1063.9,1182.7 1043.6,1178.2 1051,1165.6 1071.2,1170.2" fill="#EEEE00"/>
<polygon points="1099.8,1179.8 1080.1,1177.7 1080.1,1189.5 1099.8,1191.7" fill="#B80000"/>
<polygon points="1103.3,1167.6 1099.8,1179.8 1099.8,1191.7 1103.3,1179.5" fill="#990000"/>
<polygon points="1099.8,1179.8 1080.1,1177.7 1083.6,1165.5 1103.3,1167.6" fill="#E60000"/>
<polygon points="1146,1172.8 1126.1,1172.8 1126.1,1184.6 1146,1184.6" fill="#A8A800"/>
<polygon points="1146,1172.8 1126.1,1172.8 1126.1,1160.4 1146,1160.4" fill="#EEEE00"/>
<polygon points="1122.1,1184.1 1102.6,1178.4 1102.6,1191.2 1122.1,1196.9" fill="#CFCF00"/>
<polygon points="1131.2,1172 1122.1,1184.1 1122.1,1196.9 1131.2,1184.8" fill="#A8A800"/>
<polygon points="1122.1,1184.1 1102.6,1178.4 1111.7,1166.3 1131.2,1172" fill="#EEEE00"/>
<polygon points="1131.7,1196.9 1114.2,1196.9 1114.2,1207.4 1131.7,1207.4" fill="#009600"/>
<polygon points="1131.7,1196.9 1114.2,1196.9 1114.2,1186 1131.7,1186" fill="#00DC00"/>
<polygon points="1156.8,1188.4 1136,1185 1136,1197.8 1156.8,1201.2" fill="#2F4CC0"/>
<polygon points="1162.4,1175.5 1156.8,1188.4 1156.8,1201.2 1162.4,1188.3" fill="#263C9C"/>
<polygon points="1156.8,1188.4 1136,1185 1141.5,1172 1162.4,1175.5" fill="#3B5FE8"/>
<polygon points="1027.5,1193.7 1006.8,1186.3 1006.8,1200.5 1027.5,1207.9" fill="#B80000"/>
<polygon points="1039.5,1180.8 1027.5,1193.7 1027.5,1207.9 1039.5,1195.1" fill="#990000"/>
<polygon points="1027.5,1193.7 1006.8,1186.3 1018.8,1173.4 1039.5,1180.8" fill="#E60000"/>
<polygon points="1091.1,1196.3 1070.8,1190.4 1070.8,1203.7 1091.1,1209.5" fill="#00B400"/>
<polygon points="1100.5,1183.7 1091.1,1196.3 1091.1,1209.5 1100.5,1197" fill="#009600"/>
<polygon points="1091.1,1196.3 1070.8,1190.4 1080.3,1177.8 1100.5,1183.7" fill="#00DC00"/>
<polygon points="958,1214.4 937.7,1208.5 937.7,1221.8 958,1227.7" fill="#CFCF00"/>
<polygon points="967.4,1201.8 958,1214.4 958,1227.7 967.4,1215.1" fill="#A8A800"/>
<polygon points="958,1214.4 937.7,1208.5 947.2,1196 967.4,1201.8" fill="#EEEE00"/>
<polygon points="990.8,1215.1 970.8,1215.1 970.8,1227 990.8,1227" fill="#009600"/>
<polygon points="990.8,1215.1 970.8,1215.1 970.8,1202.7 990.8,1202.7" fill="#00DC00"/>
<polygon points="1031.3,1210.1 1013,1210.1 1013,1221 1031.3,1221" fill="#009600"/>
<polygon points="1031.3,1210.1 1013,1210.1 1013,1198.7 1031.3,1198.7" fill="#00DC00"/>
<polygon points="1061.4,1211.1 1041.4,1211.1 1041.4,1222.9 1061.4,1222.9" fill="#263C9C"/>
<polygon points="1061.4,1211.1 1041.4,1211.1 1041.4,1198.7 1061.4,1198.7" fill="#3B5FE8"/>
<polygon points="1076.8,1210.6 1060.3,1206.8 1060.3,1217.3 1076.8,1221" fill="#2F4CC0"/>
<polygon points="1082.8,1200.3 1076.8,1210.6 1076.8,1221 1082.8,1210.8" fill="#263C9C"/>
<polygon points="1076.8,1210.6 1060.3,1206.8 1066.3,1196.6 1082.8,1200.3" fill="#3B5FE8"/>
<polygon points="1018.8,1216.5 998.6,1221.1 998.6,1233.9 1018.8,1229.3" fill="#990000"/>
<polygon points="998.6,1221.1 991.2,1208.5 991.2,1221.3 998.6,1233.9" fill="#B80000"/>
<polygon points="1018.8,1216.5 998.6,1221.1 991.2,1208.5 1011.5,1203.9" fill="#E60000"/>
<polygon points="1101.1,1219.2 1080.7,1216.9 1080.7,1229.3 1101.1,1231.5" fill="#00B400"/>
<polygon points="1104.7,1206.5 1101.1,1219.2 1101.1,1231.5 1104.7,1218.8" fill="#009600"/>
<polygon points="1101.1,1219.2 1080.7,1216.9 1084.3,1204.3 1104.7,1206.5" fill="#00DC00"/>
<polygon points="1133.9,1213.1 1114,1213.1 1114,1225 1133.9,1225" fill="#263C9C"/>
<polygon points="1133.9,1213.1 1114,1213.1 1114,1200.7 1133.9,1200.7" fill="#3B5FE8"/>
<polygon points="1151.5,1214.1 1134.7,1214.1 1134.7,1224 1151.5,1224" fill="#990000"/>
<polygon points="1151.5,1214.1 1134.7,1214.1 1134.7,1203.7 1151.5,1203.7" fill="#E60000"/>
<polygon points="1173.7,1211.4 1153.5,1205.5 1153.5,1218.8 1173.7,1224.7" fill="#CFCF00"/>
<polygon points="1183.2,1198.8 1173.7,1211.4 1173.7,1224.7 1183.2,1212.1" fill="#A8A800"/>
<polygon points="1173.7,1211.4 1153.5,1205.5 1162.9,1193 1183.2,1198.8" fill="#EEEE00"/>
<polygon points="1169,1225.2 1151.5,1225.2 1151.5,1235.6 1169,1235.6" fill="#A8A800"/>
<polygon points="1169,1225.2 1151.5,1225.2 1151.5,1214.3 1169,1214.3" fill="#EEEE00"/>
<polygon points="955.3,1245.3 937.8,1245.3 937.8,1255.8 955.3,1255.8" fill="#A8A800"/>
<polygon points="955.3,1245.3 937.8,1245.3 937.8,1234.4 955.3,1234.4" fill="#EEEE00"/>
<polygon points="945.6,1237.4 923.1,1232.3 923.1,1246.6 945.6,1251.6" fill="#B80000"/>
<polygon points="953.8,1223.5 945.6,1237.4 945.6,1251.6 953.8,1237.7" fill="#990000"/>
<polygon points="945.6,1237.4 923.1,1232.3 931.3,1218.4 953.8,1223.5" fill="#E60000"/>
<polygon points="986.8,1239.3 966.8,1239.3 966.8,1251.2 986.8,1251.2" fill="#990000"/>
<polygon points="986.8,1239.3 966.8,1239.3 966.8,1226.9 986.8,1226.9" fill="#E60000"/>
<polygon points="1021.7,1235.3 1002.5,1235.3 1002.5,1246.6 1021.7,1246.6" fill="#263C9C"/>
<polygon points="1021.7,1235.3 1002.5,1235.3 1002.5,1223.4 1021.7,1223.4" fill="#3B5FE8"/>
<polygon points="1145.9,1237.3 1128.3,1237.3 1128.3,1247.7 1145.9,1247.7" fill="#263C9C"/>
<polygon points="1145.9,1237.3 1128.3,1237.3 1128.3,1226.4 1145.9,1226.4" fill="#3B5FE8"/>
<polygon points="1150.5,1247.4 1129.7,1247.4 1129.7,1259.7 1150.5,1259.7" fill="#009600"/>
<polygon points="1150.5,1247.4 1129.7,1247.4 1129.7,1234.5 1150.5,1234.5" fill="#00DC00"/>
<polygon points="1103.8,1246.2 1079.1,1242.1 1079.1,1257.3 1103.8,1261.4" fill="#B80000"/>
<polygon points="1110.4,1230.9 1103.8,1246.2 1103.8,1261.4 1110.4,1246.1" fill="#990000"/>
<polygon points="1103.8,1246.2 1079.1,1242.1 1085.7,1226.8 1110.4,1230.9" fill="#E60000"/>
<polygon points="1179.8,1235.2 1155.9,1242.1 1155.9,1257.7 1179.8,1250.8" fill="#990000"/>
<polygon points="1155.9,1242.1 1144.8,1227.3 1144.8,1242.9 1155.9,1257.7" fill="#B80000"/>
<polygon points="1179.8,1235.2 1155.9,1242.1 1144.8,1227.3 1168.6,1220.4" fill="#E60000"/>
<polygon points="991.8,1257.9 973.2,1251.2 973.2,1264 991.8,1270.7" fill="#B80000"/>
<polygon points="1002.6,1246.3 991.8,1257.9 991.8,1270.7 1002.6,1259.1" fill="#990000"/>
<polygon points="991.8,1257.9 973.2,1251.2 983.9,1239.6 1002.6,1246.3" fill="#E60000"/>
<polygon points="1027.3,1255.4 1004.9,1259.1 1004.9,1272.9 1027.3,1269.1" fill="#263C9C"/>
<polygon points="1004.9,1259.1 998.9,1245.2 998.9,1259 1004.9,1272.9" fill="#2F4CC0"/>
<polygon points="1027.3,1255.4 1004.9,1259.1 998.9,1245.2 1021.3,1241.5" fill="#3B5FE8"/>
<polygon points="1073.1,1255.4 1053.9,1255.4 1053.9,1266.8 1073.1,1266.8" fill="#009600"/>
<polygon points="1073.1,1255.4 1053.9,1255.4 1053.9,1243.5 1073.1,1243.5" fill="#00DC00"/>
<polygon points="1059.4,1243.8 1041.9,1242.8 1041.9,1253.2 1059.4,1254.2" fill="#00B400"/>
<polygon points="1060.9,1232.9 1059.4,1243.8 1059.4,1254.2 1060.9,1243.3" fill="#009600"/>
<polygon points="1059.4,1243.8 1041.9,1242.8 1043.4,1232 1060.9,1232.9" fill="#00DC00"/>
<polygon points="1081.5,1269.5 1065.6,1269.5 1065.6,1279 1081.5,1279" fill="#A8A800"/>
<polygon points="1081.5,1269.5 1065.6,1269.5 1065.6,1259.6 1081.5,1259.6" fill="#EEEE00"/>
<polygon points="1065.3,1257.4 1042.5,1265.6 1042.5,1281.2 1065.3,1273" fill="#009600"/>
<polygon points="1042.5,1265.6 1029.4,1251.4 1029.4,1267.1 1042.5,1281.2" fill="#00B400"/>
<polygon points="1065.3,1257.4 1042.5,1265.6 1029.4,1251.4 1052.2,1243.3" fill="#00DC00"/>
<polygon points="1122,1265.5 1099.7,1265.5 1099.7,1278.8 1122,1278.8" fill="#009600"/>
<polygon points="1122,1265.5 1099.7,1265.5 1099.7,1251.7 1122,1251.7" fill="#00DC00"/>
<polygon points="1151.3,1271.6 1128.9,1271.6 1128.9,1284.9 1151.3,1284.9" fill="#263C9C"/>
<polygon points="1151.3,1271.6 1128.9,1271.6 1128.9,1257.7 1151.3,1257.7" fill="#3B5FE8"/>
<polygon points="951.3,1279.1 929.6,1272.8 929.6,1287.1 951.3,1293.3" fill="#B80000"/>
<polygon points="961.5,1265.6 951.3,1279.1 951.3,1293.3 961.5,1279.9" fill="#990000"/>
<polygon points="951.3,1279.1 929.6,1272.8 939.7,1259.4 961.5,1265.6" fill="#E60000"/>
<polygon points="989.4,1285.8 962.2,1285.8 962.2,1301.9 989.4,1301.9" fill="#009600"/>
<polygon points="989.4,1285.8 962.2,1285.8 962.2,1268.9 989.4,1268.9" fill="#00DC00"/>
<polygon points="1021.8,1281.2 1003.1,1285.4 1003.1,1297.3 1021.8,1293" fill="#263C9C"/>
<polygon points="1003.1,1285.4 996.3,1273.8 996.3,1285.6 1003.1,1297.3" fill="#2F4CC0"/>
<polygon points="1021.8,1281.2 1003.1,1285.4 996.3,1273.8 1015,1269.5" fill="#3B5FE8"/>
<polygon points="1130.1,1293.8 1107.8,1293.8 1107.8,1307.1 1130.1,1307.1" fill="#263C9C"/>
<polygon points="1130.1,1293.8 1107.8,1293.8 1107.8,1279.9 1130.1,1279.9" fill="#3B5FE8"/>
<polygon points="1095,1279.8 1072.6,1286.2 1072.6,1300.9 1095,1294.5" fill="#263C9C"/>
<polygon points="1072.6,1286.2 1062.2,1272.3 1062.2,1287 1072.6,1300.9" fill="#2F4CC0"/>
<polygon points="1095,1279.8 1072.6,1286.2 1062.2,1272.3 1084.6,1265.9" fill="#3B5FE8"/>
<polygon points="1194,1281.5 1169.4,1274.4 1169.4,1290.5 1194,1297.6" fill="#B80000"/>
<polygon points="1205.5,1266.2 1194,1281.5 1194,1297.6 1205.5,1282.4" fill="#990000"/>
<polygon points="1194,1281.5 1169.4,1274.4 1180.9,1259.1 1205.5,1266.2" fill="#E60000"/>
<polygon points="956.5,1317 932.6,1317 932.6,1331.2 956.5,1331.2" fill="#009600"/>
<polygon points="956.5,1317 932.6,1317 932.6,1302.1 956.5,1302.1" fill="#00DC00"/>
<polygon points="1009.1,1317 986.8,1317 986.8,1330.2 1009.1,1330.2" fill="#A8A800"/>
<polygon points="1009.1,1317 986.8,1317 986.8,1303.1 1009.1,1303.1" fill="#EEEE00"/>
<polygon points="1031.8,1299.2 1005.9,1296.3 1005.9,1312 1031.8,1314.8" fill="#CFCF00"/>
<polygon points="1036.4,1283.1 1031.8,1299.2 1031.8,1314.8 1036.4,1298.7" fill="#A8A800"/>
<polygon points="1031.8,1299.2 1005.9,1296.3 1010.5,1280.2 1036.4,1283.1" fill="#EEEE00"/>
<polygon points="1064.3,1303.1 1042.8,1310.7 1042.8,1325.4 1064.3,1317.8" fill="#A8A800"/>
<polygon points="1042.8,1310.7 1030.5,1297.4 1030.5,1312.1 1042.8,1325.4" fill="#CFCF00"/>
<polygon points="1064.3,1303.1 1042.8,1310.7 1030.5,1297.4 1051.9,1289.8" fill="#EEEE00"/>
<polygon points="1088.6,1308.9 1068.6,1308.9 1068.6,1320.7 1088.6,1320.7" fill="#990000"/>
<polygon points="1088.6,1308.9 1068.6,1308.9 1068.6,1296.5 1088.6,1296.5" fill="#E60000"/>
<polygon points="1131.1,1320 1108.8,1320 1108.8,1333.3 1131.1,1333.3" fill="#263C9C"/>
<polygon points="1131.1,1320 1108.8,1320 1108.8,1306.1 1131.1,1306.1" fill="#3B5FE8"/>
<polygon points="1181.9,1306.8 1162.8,1306.8 1162.8,1318.2 1181.9,1318.2" fill="#263C9C"/>
<polygon points="1181.9,1306.8 1162.8,1306.8 1162.8,1295 1181.9,1295" fill="#3B5FE8"/>
<polygon points="1123.8,1303.8 1100.7,1310.5 1100.7,1325.7 1123.8,1319" fill="#990000"/>
<polygon points="1100.7,1310.5 1089.9,1296.2 1089.9,1311.4 1100.7,1325.7" fill="#B80000"/>
<polygon points="1123.8,1303.8 1100.7,1310.5 1089.9,1296.2 1113,1289.5" fill="#E60000"/>
<polygon points="1160.6,1314.3 1138.3,1304.6 1138.3,1320.7 1160.6,1330.4" fill="#CFCF00"/>
<polygon points="1176.1,1300.5 1160.6,1314.3 1160.6,1330.4 1176.1,1316.6" fill="#A8A800"/>
<polygon points="1160.6,1314.3 1138.3,1304.6 1153.9,1290.8 1176.1,1300.5" fill="#EEEE00"/>
<line x1="1048.6" y1="1111.6" x2="1048.6" y2="1231" stroke="#0000F0" stroke-width="2.4"/>
</g>
<g clip-path="url(#cpSS)">
<rect x="883" y="1412" width="340.8" height="255.7" fill="#4a4a48"/>
<rect x="883" y="1412" width="340.8" height="4.5" fill="url(#gStrip)"/>
<polygon points="883,1416.1 913.3,1419.1 883,1496.7" fill="#E4E4E4"/>
<polygon points="1185.5,1416.1 1223.8,1416.1 1223.8,1500.8" fill="url(#gSky)"/>
<polygon points="913.3,1419.1 1185.5,1416.1 1142.1,1480.6 966.7,1482.6" fill="url(#gPBack)"/>
<polygon points="913.3,1419.1 966.7,1482.6 938.5,1641.9 883,1667.7 883,1496.7" fill="url(#gPL)"/>
<polygon points="1185.5,1416.1 1223.8,1500.8 1223.8,1645.9 1180.4,1635.8 1142.1,1480.6" fill="url(#gPR)"/>
<polygon points="966.7,1482.6 1142.1,1480.6 1180.4,1635.8 938.5,1641.9" fill="url(#gPFloor)"/>
<polygon points="938.5,1641.9 1180.4,1635.8 1223.8,1645.9 1223.8,1667.7 883,1667.7 883,1655" fill="#4b4b49"/>
<rect x="883" y="1416.5" width="340.8" height="251.2" fill="#fff" filter="url(#noise)" opacity="0.15"/>
<rect x="803" y="1332" width="500.8" height="415.7" fill="#fff" filter="url(#streak)" opacity="0.1" transform="rotate(-60 1053.4 1539.8)" clip-path="none"/>
<rect x="883" y="1412" width="340.8" height="4.5" fill="url(#gStrip)"/>
<polygon points="883,1416.1 913.3,1419.1 883,1496.7" fill="#E4E4E4"/>
<polygon points="1185.5,1416.1 1223.8,1416.1 1223.8,1500.8" fill="url(#gSky)"/>
<polygon points="966.7,1482.6 1142.1,1480.6 1149.2,1518.9 958.6,1525" fill="#6b6a67"/>
<polygon points="958.6,1525 1149.2,1518.9 1154.2,1541.1 954.6,1547.1" fill="#aaa9a3"/>
<polygon points="954.6,1547.1 1154.2,1541.1 1155.4,1547.1 953.4,1554.2" fill="#4a4a48"/>
<ellipse cx="1059.5" cy="1609.6" rx="85" ry="30" fill="#dddcd7" opacity="0.55" filter="url(#bl8)"/>
<polygon points="980.8,1493.7 1021.1,1492.7 1019.1,1572.3 971.1,1572.9" fill="#00DC00"/>
<polygon points="1021.1,1492.7 1082.6,1491.7 1090.7,1570.9 1019.1,1572.3" fill="#3B5FE8"/>
<polygon points="1082.6,1491.7 1123,1491.1 1139.1,1569.3 1090.7,1570.9" fill="#00DC00"/>
<polygon points="1021.5,1521.9 1085.7,1519.9 1087.1,1535 1020.3,1536.6" fill="#E60000"/>
<polygon points="971.1,1572.9 1019.1,1572.3 1021.1,1582.4 975.2,1583.4" fill="#009600"/>
<polygon points="1019.1,1572.3 1090.7,1570.9 1089.7,1580.4 1021.1,1582.4" fill="#263C9C"/>
<polygon points="1090.7,1570.9 1139.1,1569.3 1136.1,1579.4 1089.7,1580.4" fill="#009600"/>
<line x1="1053.4" y1="1412" x2="1053.4" y2="1527" stroke="#0000F0" stroke-width="2.4"/>
<circle cx="965.7" cy="1619.7" r="3" fill="#222"/>
</g>
<g clip-path="url(#cpS1)">
<rect x="1317.7" y="1412.2" width="345.3" height="255.3" fill="#4a4a48"/>
<rect x="1317.7" y="1412.2" width="345.3" height="2" fill="url(#gStrip)"/>
<polygon points="1317.7,1414.2 1362.2,1413.2 1317.7,1539.3" fill="#E4E4E4"/>
<polygon points="1630.9,1412.6 1663.1,1412.6 1663.1,1492.1" fill="url(#gSky)"/>
<polygon points="1362.2,1413.2 1630.9,1412.6 1590.9,1490.1 1410.4,1491.1" fill="url(#gPBack)"/>
<polygon points="1362.2,1413.2 1410.4,1491.1 1371.5,1667.5 1317.7,1667.5 1317.7,1539.3" fill="url(#gPL)"/>
<polygon points="1630.9,1412.6 1663.1,1492.1 1663.1,1667.5 1625.8,1667.5 1590.9,1490.1" fill="url(#gPR)"/>
<polygon points="1410.4,1491.1 1590.9,1490.1 1625.8,1667.5 1371.5,1667.5" fill="url(#gPFloor)"/>
<rect x="1317.7" y="1414.2" width="345.3" height="253.3" fill="#fff" filter="url(#noise)" opacity="0.15"/>
<rect x="1237.7" y="1332.2" width="505.3" height="415.3" fill="#fff" filter="url(#streak)" opacity="0.1" transform="rotate(-60 1490.3 1539.8)" clip-path="none"/>
<rect x="1317.7" y="1412.2" width="345.3" height="2" fill="url(#gStrip)"/>
<polygon points="1317.7,1414.2 1362.2,1413.2 1317.7,1539.3" fill="#E4E4E4"/>
<polygon points="1630.9,1412.6 1663.1,1412.6 1663.1,1492.1" fill="url(#gSky)"/>
<polygon points="1410.4,1491.1 1590.9,1490.1 1598.1,1529 1402.2,1531.1" fill="#6b6a67"/>
<polygon points="1402.2,1531.1 1598.1,1529 1604.2,1561.9 1395.1,1563.9" fill="#aaa9a3"/>
<polygon points="1395.1,1563.9 1604.2,1561.9 1605.7,1570.1 1393.4,1572.1" fill="#4a4a48"/>
<ellipse cx="1496.6" cy="1635.7" rx="85" ry="30" fill="#dddcd7" opacity="0.55" filter="url(#bl8)"/>
<polygon points="1425.8,1491.7 1570,1490.5 1583.7,1575.2 1413.5,1576.2" fill="url(#gYel)"/>
<polygon points="1413.5,1576.2 1583.7,1575.2 1580.6,1592.6 1416.6,1593.6" fill="#8E8E00"/>
<polygon points="1416.6,1593.6 1464.2,1593 1464.8,1609.4 1419.7,1609.4" fill="#009600"/>
<polygon points="1464.2,1593 1533.1,1592.6 1532.4,1609 1464.8,1609.4" fill="#263C9C"/>
<polygon points="1533.1,1592.6 1580.6,1592.2 1578.2,1608 1532.4,1609" fill="#009600"/>
<line x1="1497.6" y1="1412.2" x2="1497.6" y2="1529" stroke="#0000F0" stroke-width="2.6"/>
<circle cx="1407.4" cy="1641.8" r="3" fill="#222"/>
</g>
<g clip-path="url(#cpS2)">
<rect x="1631.9" y="1091.5" width="330" height="246.3" fill="#4a4a48"/>
<rect x="1631.9" y="1091.5" width="330" height="15.2" fill="url(#gStrip)"/>
<polygon points="1631.9,1106.7 1672.3,1106.7 1631.9,1223.9" fill="#E4E4E4"/>
<polygon points="1909.7,1105.3 1961.9,1105.3 1961.9,1249.5" fill="url(#gSky)"/>
<polygon points="1672.3,1106.7 1909.7,1105.3 1880.1,1196.3 1704.8,1204.2" fill="url(#gPBack)"/>
<polygon points="1672.3,1106.7 1704.8,1204.2 1691,1337.8 1631.9,1337.8 1631.9,1223.9" fill="url(#gPL)"/>
<polygon points="1909.7,1105.3 1961.9,1249.5 1961.9,1337.8 1903.8,1337.8 1880.1,1196.3" fill="url(#gPR)"/>
<polygon points="1704.8,1204.2 1880.1,1196.3 1903.8,1337.8 1691,1337.8" fill="url(#gPFloor)"/>
<rect x="1631.9" y="1106.7" width="330" height="231.1" fill="#fff" filter="url(#noise)" opacity="0.15"/>
<rect x="1551.9" y="1011.5" width="490" height="406.3" fill="#fff" filter="url(#streak)" opacity="0.1" transform="rotate(-60 1796.9 1214.7)" clip-path="none"/>
<rect x="1631.9" y="1091.5" width="330" height="15.2" fill="url(#gStrip)"/>
<polygon points="1631.9,1106.7 1672.3,1106.7 1631.9,1223.9" fill="#E4E4E4"/>
<polygon points="1909.7,1105.3 1961.9,1105.3 1961.9,1249.5" fill="url(#gSky)"/>
<polygon points="1949.1,1091.5 1961.9,1091.5 1961.9,1117.5 1958.9,1106.7" fill="#A9C6EE"/>
<polygon points="1703.8,1216 1882.1,1212.1 1886,1237.7 1699.9,1243.6" fill="#aaa9a3"/>
<polygon points="1699.9,1243.6 1886,1237.7 1887.6,1247.5 1698.5,1253.5" fill="#4a4a48"/>
<ellipse cx="1799.4" cy="1306.6" rx="80" ry="30" fill="#dddcd7" opacity="0.55" filter="url(#bl8)"/>
<polygon points="1726.5,1197.9 1763.9,1197.9 1760.9,1260.3 1719,1261.3" fill="#00DC00"/>
<polygon points="1763.9,1197.9 1820.1,1197.3 1823.6,1259.4 1760.9,1260.3" fill="#3B5FE8"/>
<polygon points="1820.1,1197.3 1858.5,1196.7 1866.7,1259 1823.6,1259.4" fill="#00DC00"/>
<polygon points="1763.3,1210.1 1821,1209.7 1821.6,1225.5 1762.5,1226.3" fill="#E60000"/>
<polygon points="1719,1261.3 1760.9,1260.3 1761.9,1274.7 1721,1275.1" fill="#009600"/>
<polygon points="1760.9,1260.3 1823.6,1259.4 1823,1274.1 1761.9,1274.7" fill="#263C9C"/>
<polygon points="1823.6,1259.4 1866.7,1259 1865.4,1273.2 1823,1274.1" fill="#009600"/>
<line x1="1791.5" y1="1196.3" x2="1791.5" y2="1218" stroke="#0000F0" stroke-width="2.6"/>
<polygon points="1716.6,1099.4 1866,1098.4 1881.7,1175.6 1701.8,1177" fill="url(#gYel)"/>
<polygon points="1701.8,1177 1881.7,1175.6 1878.8,1196.3 1704.8,1197.9" fill="#8E8E00"/>
<line x1="1791.5" y1="1091.5" x2="1791.5" y2="1133.3" stroke="#0000F0" stroke-width="2.6"/>
<circle cx="1711.7" cy="1314.5" r="3" fill="#222"/>
</g>
<g clip-path="url(#cpRE)">
<rect x="50" y="1882" width="642" height="491" fill="url(#gWall)"/>
<polygon points="304.4,1882 370,1882 370,2079.2 334.8,2077.4 326.5,2011" fill="#a09a93"/>
<polygon points="368.1,1882 407.1,1882 404.3,1974.7 400.6,2082.3 368.1,2082.3" fill="#aaa59f"/>
<polygon points="304.4,1882 321,1882 337.6,2011 343.1,2077.4 334.8,2077.4 326.5,2011" fill="#928c85"/>
<polygon points="50,2086.6 85,2075.5 145.9,2088.5 153.2,2077.4 164.3,2073.7 50,2173.2" fill="#bdb6b0"/>
<polygon points="83.2,2074.6 145.9,2089.4 105.3,2127.2 97,2121.6 92.4,2092.1" fill="#3d3d3f"/>
<polygon points="89.6,2082 136.6,2092.1 105.3,2119.8 97.9,2112.4" fill="#77777a"/>
<polygon points="50,2090.3 86.9,2098.6 95.2,2140.1 50,2165.9" fill="#161617"/>
<polygon points="50,2084.8 72.1,2081.1 86.9,2098.6 50,2091.2" fill="#5a5a5c"/>
<polygon points="609.3,2106.4 629.7,2000.7 692,1993.3 692,2199.9 659.4,2199.9" fill="#64605b"/>
<polygon points="629.7,2000.7 648.2,2000.7 616.7,2128.7 609.3,2106.4" fill="#726e69"/>
<polygon points="656.6,2017.4 659.7,2017.4 627.5,2146.3 623.4,2146.3" fill="#2b4e8c"/>
<polygon points="674.2,2011.8 692,2004.4 692,2199.9 666.8,2199.9 659.4,2160.2" fill="#bab7af"/>
<polygon points="659.4,2160.2 676.1,2113.9 692,2123.1 692,2199.9 655.7,2199.9" fill="#8a8680"/>
<polygon points="627.8,1882 692,1882 692,2000.7 659.4,2010 629.7,1982.2 618.6,1930.2 620.4,1900.5" fill="#57534f"/>
<polygon points="624.1,1926.5 644.5,1913.5 659.4,1912.6 671.4,1950.6 639,1963.6" fill="#b4b4b3"/>
<polygon points="629.7,1915.4 648.2,1911.7 655.7,1915.4 633.4,1928.4" fill="#d8d8d7"/>
<polygon points="659.4,1919.1 692,1904.3 692,1959.9 674.2,1956.2" fill="#7d7d7b"/>
<polygon points="626,1983.1 635.6,1978.5 658.4,2010 643.6,2014.6 629.7,2000.7" fill="#9dc6da"/>
<polygon points="683.5,1930.2 692,1926.5 692,1939.5 685.3,1941.4" fill="#9dc6da"/>
<polygon points="618.6,1882 627.8,1882 620.4,1928.4 633.4,1971 627.8,1974.7 614.9,1930.2" fill="#1c1c1c"/>
<polygon points="449.8,1882 535.1,1882 546.2,1919.1 542.5,1943.2 520.3,1959.9 516.5,2030.4 520.6,2087 467.9,2087 462.7,2030.4 451.6,1959.9 442.3,1928.4 444.2,1900.5" fill="#19191b"/>
<polygon points="443.3,1929.3 429.4,1969.2 429,1985.9 434.9,1993.3 441.4,1991.4 450.1,1963.6 449.8,1943.2" fill="#19191b"/>
<polygon points="559.2,1882 589.8,1882 574,1937.6 555.5,1978.5 537.9,2015.6 529.9,2045.2 518.4,2045.2 508.2,2041.5 514.7,2023 533.2,1985.9 544.4,1937.6" fill="#1d1d1f"/>
<polygon points="470.2,1948.8 503.6,1946.9 499.8,2086 473.9,2086" fill="#2b2b2e" opacity="0.8"/>
<polygon points="488.7,1900.5 522.1,1896.8 529.5,1930.2 499.8,1937.6" fill="#3a3a3d" opacity="0.6" filter="url(#bl3)"/>
<polygon points="691.2,2106.5 650,2215 664.4,2253 691.2,2178.5" fill="#5b5a56"/>
<polygon points="664.4,2253 691.2,2178.5 691.2,2330" fill="#bdbab2"/>
<polygon points="676,2250 679,2250 691.2,2215 691.2,2208" fill="#a9c4e6"/>
<polygon points="157.3,2073.4 284.6,2079.4 456.9,2086.9 599.1,2092.2 720,2399.6 50,2393 50.6,2171.9" fill="url(#gTable)"/>
<polygon points="157.3,2073.4 284.6,2079.4 456.9,2086.9 599.1,2092.2 600.5,2096 540,2094 156.3,2077.9" fill="#2f2e2e"/>
<polygon points="50,2353 120,2364 230,2373.5 50,2373.5" fill="#171411"/>
<polygon points="608,2202 630,2211 650,2231 657,2232 691.5,2320 691.5,2373 655.3,2373 630.4,2276.6 610.8,2217.7" fill="#1b1b1b"/>
<path d="M606 2197 C625 2204 645 2218 653 2240 C660 2262 664 2270 668 2285" fill="none" stroke="#101010" stroke-width="2.2"/>
<path d="M633 2283 C655 2284 680 2305 692 2330" fill="none" stroke="#3a3a3a" stroke-width="1.6"/>
<ellipse cx="660" cy="2290" rx="14" ry="22" fill="#0c0c0c" opacity="0.7" transform="rotate(-20 660 2290)"/>
<polygon points="92.4,1882 140.3,1882 138.8,1937.3 86.9,1935.5" fill="#babcc0"/>
<polygon points="92.4,1882 105.3,1882 101.6,1935.5 86.9,1935.5" fill="#9d9fa3"/>
<polygon points="91.5,1908.7 131.1,1916.7 129.6,1937.3 89.6,1932.1" fill="#e8dc30"/>
<polygon points="85.9,1935.5 137.6,1943.2 136.3,1953 85,1948.7" fill="#3f4044"/>
<polygon points="85,1946.5 136.6,1952 149.5,1977.9 145.9,2011 109,2001.8 90.6,1974.2" fill="#524e4a"/>
<ellipse cx="85.9" cy="1974.2" rx="19.4" ry="29.5" fill="#9dc6da" transform="rotate(-8 85.9 1974.2)"/>
<ellipse cx="77.6" cy="1970.5" rx="8.3" ry="20.3" fill="#b4d6e6" transform="rotate(-8 77.6 1970.5)"/>
<polygon points="153.2,1937.3 165.2,1913.3 215.9,1925.3 258.3,1942.8 262,1977.9 243.5,1986.1 215.9,2000.9 179,2004.6 160.6,2019.3 145.9,2011 142.2,1964.9" fill="#524e4a"/>
<polygon points="165.2,1913.3 215.9,1925.3 258.3,1942.8 259.2,1955.7 215.9,1942.8 160.6,1929.9" fill="#676360"/>
<ellipse cx="189.2" cy="1914.8" rx="25.8" ry="15.1" fill="#9dc6da" transform="rotate(8 189.2 1914.8)"/>
<ellipse cx="190.1" cy="1909.6" rx="20.3" ry="9.2" fill="#b4d6e6" transform="rotate(8 190.1 1909.6)"/>
<ellipse cx="185.5" cy="1884.2" rx="19.4" ry="5.9" fill="#9dc6da" transform="rotate(5 185.5 1884.2)"/>
<ellipse cx="262.4" cy="1960.3" rx="7" ry="20.3" fill="#9dc6da" transform="rotate(-5 262.4 1960.3)"/>
<polygon points="160.6,2001.8 215.9,2011 220.5,2040.5 180.9,2048.8 164.3,2029.5" fill="#3a3836"/>
<polygon points="168,2011 216.8,2019.3 218.1,2027.6 169.8,2022.1" fill="#5a5653"/>
<polygon points="177.2,1970.5 197.5,1977.9 214.1,1994.8 171.7,1994.8" fill="#b8aa30"/>
<polygon points="179,1974.2 191.9,1978.8 191.9,1990.8 177.2,1989.8" fill="#7c7126"/>
<polygon points="212.2,1955.7 236.2,1963.1 246.3,1992.6 227,2004.6 215.9,1985.2 197.5,1981.5" fill="#161617"/>
<polygon points="201.5,1948.4 215.9,1959.4 208.9,1985.2 195.6,1974.2" fill="#8e2f3c"/>
<ellipse cx="234.3" cy="1992.6" rx="11.4" ry="11.4" fill="#0e0e0f" transform="rotate(0 234.3 1992.6)"/>
<ellipse cx="232.5" cy="1990.8" rx="4.1" ry="4.1" fill="#3a3a3c" transform="rotate(0 232.5 1990.8)"/>
<path d="M193.8 1942.8 C164.3 1937.3 138.5 1952 123.7 1977.9 C105.3 2011 101.6 2047.9 112.7 2066.3 C123.7 2070 131.1 2047.9 131.1 2022.1" fill="none" stroke="#1b1b1d" stroke-width="7.5" stroke-linecap="round"/>
<path d="M179 1948.4 C153.2 1955.7 131.1 1985.2 123.7 2011 C118.2 2038.7 120 2059 123.7 2064.5" fill="none" stroke="#242322" stroke-width="5" stroke-linecap="round"/>
<path d="M215.9 2000 C230.6 2011 215.9 2033.2 201.2 2042.4" fill="none" stroke="#3a3a3c" stroke-width="2.5" stroke-linecap="round"/>
<path d="M190.1 2040.5 C153.2 2042.4 120 2094 92.4 2127.2 C72.1 2151.1 57.4 2162.2 50 2166.8" fill="none" stroke="#1b1b1d" stroke-width="4.2" stroke-linecap="round"/>
<path d="M153.2 2022.1 C149.5 2047.9 160.6 2070 179 2077.4" fill="none" stroke="#3a3a3c" stroke-width="3" stroke-linecap="round"/>
<polygon points="179,2048.8 220.5,2039.1 236.2,2059 252.8,2075.5 268.4,2103.2 286.9,2127.2 278.6,2129.9 216.8,2141 205.2,2112.4 191.9,2081.1" fill="#f1f1f2"/>
<polygon points="179,2048.8 190.1,2046.1 206.7,2081.1 221.4,2121.6 227,2139.1 216.8,2141 205.2,2112.4 191.9,2081.1" fill="#d3d3d6"/>
<polygon points="198.4,2101.7 250.9,2073.7 260.1,2092.5 207.1,2123.8" fill="#e9dd2e"/>
<polygon points="231.6,2080.2 248.2,2074.6 253.7,2086.6 237.1,2093.1" fill="#8a8226"/>
<ellipse cx="195.6" cy="2051.6" rx="7.4" ry="4.6" fill="#8a8a8c" transform="rotate(20 195.6 2051.6)"/>
<polygon points="168,2073.7 179,2071.9 190.1,2084.8 186.4,2089.4 177.2,2084.8" fill="#7b7b7d"/>
<line x1="216.8" y1="2140.1" x2="246.3" y2="2181.5" stroke="#161616" stroke-width="9.5" stroke-linecap="round"/>
<line x1="219.8" y1="2144.2" x2="229.2" y2="2157.5" stroke="#efeff0" stroke-width="6" stroke-linecap="round"/>
<line x1="232.2" y1="2161.6" x2="240.4" y2="2173.2" stroke="#efeff0" stroke-width="6" stroke-linecap="round"/>
<line x1="238" y1="2133.1" x2="268.4" y2="2176.9" stroke="#161616" stroke-width="9.5" stroke-linecap="round"/>
<line x1="241.1" y1="2137.4" x2="250.8" y2="2151.5" stroke="#efeff0" stroke-width="6" stroke-linecap="round"/>
<line x1="253.8" y1="2155.9" x2="262.4" y2="2168.2" stroke="#efeff0" stroke-width="6" stroke-linecap="round"/>
<line x1="253.7" y1="2125.7" x2="286.9" y2="2170.5" stroke="#161616" stroke-width="9.5" stroke-linecap="round"/>
<line x1="257" y1="2130.2" x2="267.6" y2="2144.5" stroke="#efeff0" stroke-width="6" stroke-linecap="round"/>
<line x1="270.9" y1="2149" x2="280.2" y2="2161.5" stroke="#efeff0" stroke-width="6" stroke-linecap="round"/>
<line x1="271.2" y1="2118.9" x2="291.8" y2="2148.4" stroke="#161616" stroke-width="9.5" stroke-linecap="round"/>
<line x1="273.3" y1="2121.8" x2="279.9" y2="2131.3" stroke="#efeff0" stroke-width="6" stroke-linecap="round"/>
<line x1="281.9" y1="2134.2" x2="287.7" y2="2142.5" stroke="#efeff0" stroke-width="6" stroke-linecap="round"/>
<polygon points="311.9,2130.2 293.3,2128.2 293.3,2140.5 311.9,2142.5" fill="#DC434C"/>
<polygon points="315.2,2118.7 311.9,2130.2 311.9,2142.5 315.2,2131" fill="#C2363F"/>
<polygon points="311.9,2130.2 293.3,2128.2 296.6,2116.7 315.2,2118.7" fill="#F4565E"/>
<polygon points="305.5,2136.3 292.6,2136.3 292.6,2144.7 305.5,2144.7" fill="#3A9830"/>
<polygon points="305.5,2136.3 292.6,2136.3 292.6,2128.3 305.5,2128.3" fill="#54CC44"/>
<polygon points="300.8,2137.6 284.2,2139.4 284.2,2150.4 300.8,2148.5" fill="#CDAE12"/>
<polygon points="284.2,2139.4 281.2,2129.1 281.2,2140 284.2,2150.4" fill="#E8C818"/>
<polygon points="300.8,2137.6 284.2,2139.4 281.2,2129.1 297.9,2127.2" fill="#FFE21C"/>
<polygon points="338.5,2143.2 326.5,2143.2 326.5,2151 338.5,2151" fill="#346BAE"/>
<polygon points="338.5,2143.2 326.5,2143.2 326.5,2135.8 338.5,2135.8" fill="#4C92DE"/>
<polygon points="330.2,2148.9 311.8,2148.9 311.8,2160.9 330.2,2160.9" fill="#3A9830"/>
<polygon points="330.2,2148.9 311.8,2148.9 311.8,2137.5 330.2,2137.5" fill="#54CC44"/>
<polygon points="367.6,2145 348.9,2143.4 348.9,2155.7 367.6,2157.3" fill="#DC434C"/>
<polygon points="370.2,2133.4 367.6,2145 367.6,2157.3 370.2,2145.7" fill="#C2363F"/>
<polygon points="367.6,2145 348.9,2143.4 351.5,2131.8 370.2,2133.4" fill="#F4565E"/>
<polygon points="354.4,2151.4 334.2,2153.1 334.2,2166.4 354.4,2164.6" fill="#CDAE12"/>
<polygon points="334.2,2153.1 331.4,2140.6 331.4,2153.9 334.2,2166.4" fill="#E8C818"/>
<polygon points="354.4,2151.4 334.2,2153.1 331.4,2140.6 351.5,2138.9" fill="#FFE21C"/>
<polygon points="374.9,2166.3 356.6,2163.3 356.6,2175.6 374.9,2178.6" fill="#3F7EC6"/>
<polygon points="379.8,2155 374.9,2166.3 374.9,2178.6 379.8,2167.3" fill="#346BAE"/>
<polygon points="374.9,2166.3 356.6,2163.3 361.5,2152 379.8,2155" fill="#4C92DE"/>
<polygon points="324.6,2162.7 305.8,2162.7 305.8,2175 324.6,2175" fill="#346BAE"/>
<polygon points="324.6,2162.7 305.8,2162.7 305.8,2151 324.6,2151" fill="#4C92DE"/>
<polygon points="344.4,2172 327.5,2172 327.5,2182.9 344.4,2182.9" fill="#CDAE12"/>
<polygon points="344.4,2172 327.5,2172 327.5,2161.5 344.4,2161.5" fill="#FFE21C"/>
<polygon points="361.7,2175 342,2173.3 342,2186.2 361.7,2187.9" fill="#E8C818"/>
<polygon points="364.5,2162.8 361.7,2175 361.7,2187.9 364.5,2175.7" fill="#CDAE12"/>
<polygon points="361.7,2175 342,2173.3 344.8,2161.1 364.5,2162.8" fill="#FFE21C"/>
<polygon points="296.2,2169.6 274.3,2169.6 274.3,2183.8 296.2,2183.8" fill="#C2363F"/>
<polygon points="296.2,2169.6 274.3,2169.6 274.3,2156 296.2,2156" fill="#F4565E"/>
<polygon points="226.7,2175.8 209.8,2172 209.8,2183.6 226.7,2187.4" fill="#46B03A"/>
<polygon points="232.8,2165.4 226.7,2175.8 226.7,2187.4 232.8,2177" fill="#3A9830"/>
<polygon points="226.7,2175.8 209.8,2172 216,2161.6 232.8,2165.4" fill="#54CC44"/>
<polygon points="258.1,2172 243.2,2172 243.2,2181.7 258.1,2181.7" fill="#CDAE12"/>
<polygon points="258.1,2172 243.2,2172 243.2,2162.7 258.1,2162.7" fill="#FFE21C"/>
<polygon points="241.9,2188.1 225,2188.1 225,2199.1 241.9,2199.1" fill="#346BAE"/>
<polygon points="241.9,2188.1 225,2188.1 225,2177.6 241.9,2177.6" fill="#4C92DE"/>
<polygon points="330.6,2189.2 313.7,2189.2 313.7,2200.2 330.6,2200.2" fill="#C2363F"/>
<polygon points="330.6,2189.2 313.7,2189.2 313.7,2178.8 330.6,2178.8" fill="#F4565E"/>
<polygon points="353,2190.4 336.1,2190.4 336.1,2201.4 353,2201.4" fill="#346BAE"/>
<polygon points="353,2190.4 336.1,2190.4 336.1,2179.9 353,2179.9" fill="#4C92DE"/>
<polygon points="313.6,2185.4 293.7,2186 293.7,2199 313.6,2198.3" fill="#3A9830"/>
<polygon points="293.7,2186 292.7,2173.7 292.7,2186.7 293.7,2199" fill="#46B03A"/>
<polygon points="313.6,2185.4 293.7,2186 292.7,2173.7 312.5,2173.1" fill="#54CC44"/>
<polygon points="287.5,2194.7 270.9,2192.9 270.9,2203.8 287.5,2205.7" fill="#3F7EC6"/>
<polygon points="290.4,2184.4 287.5,2194.7 287.5,2205.7 290.4,2195.3" fill="#346BAE"/>
<polygon points="287.5,2194.7 270.9,2192.9 273.8,2182.5 290.4,2184.4" fill="#4C92DE"/>
<polygon points="249.1,2203 229.2,2203 229.2,2215.9 249.1,2215.9" fill="#C2363F"/>
<polygon points="249.1,2203 229.2,2203 229.2,2190.7 249.1,2190.7" fill="#F4565E"/>
<polygon points="264.5,2196.3 246.3,2189.3 246.3,2203.2 264.5,2210.2" fill="#E8C818"/>
<polygon points="275.8,2185 264.5,2196.3 264.5,2210.2 275.8,2198.9" fill="#CDAE12"/>
<polygon points="264.5,2196.3 246.3,2189.3 257.7,2178 275.8,2185" fill="#FFE21C"/>
<polygon points="316.9,2205.4 302,2205.4 302,2215.1 316.9,2215.1" fill="#C2363F"/>
<polygon points="316.9,2205.4 302,2205.4 302,2196.2 316.9,2196.2" fill="#F4565E"/>
<polygon points="340.7,2205 321.8,2205.6 321.8,2217.9 340.7,2217.3" fill="#3A9830"/>
<polygon points="321.8,2205.6 320.8,2193.9 320.8,2206.2 321.8,2217.9" fill="#46B03A"/>
<polygon points="340.7,2205 321.8,2205.6 320.8,2193.9 339.7,2193.3" fill="#54CC44"/>
<polygon points="383.7,2204.2 363.3,2201.5 363.3,2215.1 383.7,2217.8" fill="#3F7EC6"/>
<polygon points="388.1,2191.5 383.7,2204.2 383.7,2217.8 388.1,2205.1" fill="#346BAE"/>
<polygon points="383.7,2204.2 363.3,2201.5 367.7,2188.9 388.1,2191.5" fill="#4C92DE"/>
<polygon points="295,2216.6 273.8,2211.3 273.8,2226.2 295,2231.5" fill="#DC434C"/>
<polygon points="303.6,2203.5 295,2216.6 295,2231.5 303.6,2218.4" fill="#C2363F"/>
<polygon points="295,2216.6 273.8,2211.3 282.4,2198.2 303.6,2203.5" fill="#F4565E"/>
<polygon points="262.4,2224.2 239.8,2220.4 239.8,2235.6 262.4,2239.4" fill="#E8C818"/>
<polygon points="268.4,2210.2 262.4,2224.2 262.4,2239.4 268.4,2225.4" fill="#CDAE12"/>
<polygon points="262.4,2224.2 239.8,2220.4 245.9,2206.4 268.4,2210.2" fill="#FFE21C"/>
<line x1="233" y1="2162.9" x2="246.3" y2="2181.5" stroke="#161616" stroke-width="8" stroke-linecap="round"/>
<line x1="233" y1="2162.9" x2="240.4" y2="2173.2" stroke="#efeff0" stroke-width="5" stroke-linecap="round"/>
<line x1="254.7" y1="2157.2" x2="268.4" y2="2176.9" stroke="#161616" stroke-width="8" stroke-linecap="round"/>
<line x1="254.7" y1="2157.2" x2="262.4" y2="2168.2" stroke="#efeff0" stroke-width="5" stroke-linecap="round"/>
<line x1="271.9" y1="2150.3" x2="286.9" y2="2170.5" stroke="#161616" stroke-width="8" stroke-linecap="round"/>
<line x1="271.9" y1="2150.3" x2="280.2" y2="2161.5" stroke="#efeff0" stroke-width="5" stroke-linecap="round"/>
</g>
<g clip-path="url(#cpRD)">
<rect x="883" y="1782" width="341" height="261" fill="url(#gRD)"/>
<ellipse cx="1055" cy="1930" rx="125" ry="85" fill="#2d2c2b" opacity="0.55" filter="url(#bl8)"/>
<polygon points="1000,1832.9 970.8,1836 970.8,1853.6 1000,1850.5" fill="#3A9830"/>
<polygon points="970.8,1836 965.7,1818.4 965.7,1836.1 970.8,1853.6" fill="#46B03A"/>
<polygon points="1000,1832.9 970.8,1836 965.7,1818.4 994.9,1815.4" fill="#54CC44"/>
<polygon points="973.3,1865.7 948.9,1871 948.9,1886.4 973.3,1881.1" fill="#346BAE"/>
<polygon points="948.9,1871 940,1856.4 940,1871.8 948.9,1886.4" fill="#3F7EC6"/>
<polygon points="973.3,1865.7 948.9,1871 940,1856.4 964.4,1851.1" fill="#4C92DE"/>
<polygon points="997.1,1855 966,1858.2 966,1877 997.1,1873.7" fill="#3A9830"/>
<polygon points="966,1858.2 960.6,1839.6 960.6,1858.3 966,1877" fill="#46B03A"/>
<polygon points="997.1,1855 966,1858.2 960.6,1839.6 991.6,1836.3" fill="#54CC44"/>
<polygon points="1051.3,1835.8 1021.8,1837.3 1021.8,1854.9 1051.3,1853.4" fill="#C2363F"/>
<polygon points="1021.8,1837.3 1019.2,1819.6 1019.2,1837.2 1021.8,1854.9" fill="#DC434C"/>
<polygon points="1051.3,1835.8 1021.8,1837.3 1019.2,1819.6 1048.7,1818" fill="#F4565E"/>
<polygon points="1043.3,1858.7 1019.2,1858.7 1019.2,1873 1043.3,1873" fill="#C2363F"/>
<polygon points="1043.3,1858.7 1019.2,1858.7 1019.2,1844.3 1043.3,1844.3" fill="#F4565E"/>
<polygon points="1088.4,1851.4 1063.2,1844.4 1063.2,1860.9 1088.4,1867.9" fill="#E8C818"/>
<polygon points="1100.1,1836.3 1088.4,1851.4 1088.4,1867.9 1100.1,1852.8" fill="#CDAE12"/>
<polygon points="1088.4,1851.4 1063.2,1844.4 1074.9,1829.2 1100.1,1836.3" fill="#FFE21C"/>
<polygon points="1131.5,1860.3 1101.9,1861.2 1101.9,1878.8 1131.5,1877.9" fill="#346BAE"/>
<polygon points="1101.9,1861.2 1100.3,1843.5 1100.3,1861.1 1101.9,1878.8" fill="#3F7EC6"/>
<polygon points="1131.5,1860.3 1101.9,1861.2 1100.3,1843.5 1129.9,1842.5" fill="#4C92DE"/>
<polygon points="1026.3,1870.1 995.9,1875 995.9,1893.7 1026.3,1888.8" fill="#3A9830"/>
<polygon points="995.9,1875 987.7,1856.7 987.7,1875.4 995.9,1893.7" fill="#46B03A"/>
<polygon points="1026.3,1870.1 995.9,1875 987.7,1856.7 1018.2,1851.8" fill="#54CC44"/>
<polygon points="1083.3,1859 1051.1,1853.8 1051.1,1873.6 1083.3,1878.8" fill="#E8C818"/>
<polygon points="1092,1839.7 1083.3,1859 1083.3,1878.8 1092,1859.5" fill="#CDAE12"/>
<polygon points="1083.3,1859 1051.1,1853.8 1059.8,1834.5 1092,1839.7" fill="#FFE21C"/>
<polygon points="1116.4,1879.6 1088.7,1878.1 1088.7,1894.7 1116.4,1896.1" fill="#E8C818"/>
<polygon points="1118.9,1863 1116.4,1879.6 1116.4,1896.1 1118.9,1879.5" fill="#CDAE12"/>
<polygon points="1116.4,1879.6 1088.7,1878.1 1091.2,1861.5 1118.9,1863" fill="#FFE21C"/>
<polygon points="993.8,1895 967.8,1895 967.8,1910.4 993.8,1910.4" fill="#C2363F"/>
<polygon points="993.8,1895 967.8,1895 967.8,1879.5 993.8,1879.5" fill="#F4565E"/>
<polygon points="1060.8,1899.7 1031.2,1893.3 1031.2,1912 1060.8,1918.4" fill="#3F7EC6"/>
<polygon points="1071.6,1882 1060.8,1899.7 1060.8,1918.4 1071.6,1900.7" fill="#346BAE"/>
<polygon points="1060.8,1899.7 1031.2,1893.3 1042,1875.5 1071.6,1882" fill="#4C92DE"/>
<polygon points="1045.6,1885.9 1009.6,1884 1009.6,1905.5 1045.6,1907.3" fill="#DC434C"/>
<polygon points="1048.8,1864.3 1045.6,1885.9 1045.6,1907.3 1048.8,1885.7" fill="#C2363F"/>
<polygon points="1045.6,1885.9 1009.6,1884 1012.8,1862.4 1048.8,1864.3" fill="#F4565E"/>
<polygon points="1150.6,1892.5 1119.1,1893.5 1119.1,1912.2 1150.6,1911.2" fill="#C2363F"/>
<polygon points="1119.1,1893.5 1117.5,1874.6 1117.5,1893.3 1119.1,1912.2" fill="#DC434C"/>
<polygon points="1150.6,1892.5 1119.1,1893.5 1117.5,1874.6 1149,1873.6" fill="#F4565E"/>
<polygon points="988.3,1908.7 958.7,1909.6 958.7,1927.2 988.3,1926.3" fill="#CDAE12"/>
<polygon points="958.7,1909.6 957.2,1891.8 957.2,1909.5 958.7,1927.2" fill="#E8C818"/>
<polygon points="988.3,1908.7 958.7,1909.6 957.2,1891.8 986.8,1890.9" fill="#FFE21C"/>
<polygon points="1070.7,1925.3 1040.1,1925.3 1040.1,1943.4 1070.7,1943.4" fill="#346BAE"/>
<polygon points="1070.7,1925.3 1040.1,1925.3 1040.1,1906.9 1070.7,1906.9" fill="#4C92DE"/>
<polygon points="1171.3,1914.3 1139.9,1916 1139.9,1934.7 1171.3,1933.1" fill="#346BAE"/>
<polygon points="1139.9,1916 1137.1,1897.2 1137.1,1915.9 1139.9,1934.7" fill="#3F7EC6"/>
<polygon points="1171.3,1914.3 1139.9,1916 1137.1,1897.2 1168.5,1895.5" fill="#4C92DE"/>
<polygon points="1115.3,1897.9 1082.2,1905.1 1082.2,1926 1115.3,1918.8" fill="#C2363F"/>
<polygon points="1082.2,1905.1 1070.2,1885.2 1070.2,1906.2 1082.2,1926" fill="#DC434C"/>
<polygon points="1115.3,1897.9 1082.2,1905.1 1070.2,1885.2 1103.2,1878" fill="#F4565E"/>
<polygon points="1143,1922.4 1111.7,1924.1 1111.7,1942.8 1143,1941.1" fill="#CDAE12"/>
<polygon points="1111.7,1924.1 1108.9,1905.2 1108.9,1923.9 1111.7,1942.8" fill="#E8C818"/>
<polygon points="1143,1922.4 1111.7,1924.1 1108.9,1905.2 1140.3,1903.6" fill="#FFE21C"/>
<polygon points="979.5,1931.3 949.9,1931.3 949.9,1948.9 979.5,1948.9" fill="#CDAE12"/>
<polygon points="979.5,1931.3 949.9,1931.3 949.9,1913.5 979.5,1913.5" fill="#FFE21C"/>
<polygon points="1024.5,1924.6 990.5,1919.2 990.5,1940.1 1024.5,1945.6" fill="#E8C818"/>
<polygon points="1033.6,1904.2 1024.5,1924.6 1024.5,1945.6 1033.6,1925.2" fill="#CDAE12"/>
<polygon points="1024.5,1924.6 990.5,1919.2 999.6,1898.8 1033.6,1904.2" fill="#FFE21C"/>
<polygon points="1106.5,1935.4 1076.9,1935.4 1076.9,1953 1106.5,1953" fill="#346BAE"/>
<polygon points="1106.5,1935.4 1076.9,1935.4 1076.9,1917.6 1106.5,1917.6" fill="#4C92DE"/>
<polygon points="1079.3,1944.9 1048.3,1941.6 1048.3,1960.4 1079.3,1963.6" fill="#46B03A"/>
<polygon points="1084.8,1926.3 1079.3,1944.9 1079.3,1963.6 1084.8,1945" fill="#3A9830"/>
<polygon points="1079.3,1944.9 1048.3,1941.6 1053.7,1923 1084.8,1926.3" fill="#54CC44"/>
<polygon points="1175.4,1950.3 1142.2,1948.6 1142.2,1968.4 1175.4,1970.1" fill="#3F7EC6"/>
<polygon points="1178.3,1930.4 1175.4,1950.3 1175.4,1970.1 1178.3,1950.2" fill="#346BAE"/>
<polygon points="1175.4,1950.3 1142.2,1948.6 1145.1,1928.6 1178.3,1930.4" fill="#4C92DE"/>
<polygon points="1138.6,1951.5 1105.3,1951.5 1105.3,1971.3 1138.6,1971.3" fill="#346BAE"/>
<polygon points="1138.6,1951.5 1105.3,1951.5 1105.3,1931.5 1138.6,1931.5" fill="#4C92DE"/>
<polygon points="963.8,1956.8 933.4,1961.7 933.4,1980.4 963.8,1975.5" fill="#C2363F"/>
<polygon points="933.4,1961.7 925.2,1943.4 925.2,1962.1 933.4,1980.4" fill="#DC434C"/>
<polygon points="963.8,1956.8 933.4,1961.7 925.2,1943.4 955.7,1938.5" fill="#F4565E"/>
<polygon points="1001.3,1954.6 969,1959.8 969,1979.6 1001.3,1974.4" fill="#3A9830"/>
<polygon points="969,1959.8 960.4,1940.5 960.4,1960.3 969,1979.6" fill="#46B03A"/>
<polygon points="1001.3,1954.6 969,1959.8 960.4,1940.5 992.6,1935.3" fill="#54CC44"/>
<polygon points="1031.7,1959.1 1000.2,1960 1000.2,1978.8 1031.7,1977.8" fill="#CDAE12"/>
<polygon points="1000.2,1960 998.5,1941.2 998.5,1959.9 1000.2,1978.8" fill="#E8C818"/>
<polygon points="1031.7,1959.1 1000.2,1960 998.5,1941.2 1030,1940.2" fill="#FFE21C"/>
<polygon points="1068.9,1971.2 1036.1,1967.8 1036.1,1987.6 1068.9,1991" fill="#46B03A"/>
<polygon points="1074.7,1951.5 1068.9,1971.2 1068.9,1991 1074.7,1971.3" fill="#3A9830"/>
<polygon points="1068.9,1971.2 1036.1,1967.8 1041.9,1948 1074.7,1951.5" fill="#54CC44"/>
<polygon points="979,1985.8 944.4,1989.5 944.4,2010.4 979,2006.7" fill="#CDAE12"/>
<polygon points="944.4,1989.5 938.2,1968.7 938.2,1989.6 944.4,2010.4" fill="#E8C818"/>
<polygon points="979,1985.8 944.4,1989.5 938.2,1968.7 972.9,1965" fill="#FFE21C"/>
<polygon points="1113.3,1985.2 1080,1986.3 1080,2006.1 1113.3,2005.1" fill="#3A9830"/>
<polygon points="1080,1986.3 1078.2,1966.3 1078.2,1986.1 1080,2006.1" fill="#46B03A"/>
<polygon points="1113.3,1985.2 1080,1986.3 1078.2,1966.3 1111.5,1965.3" fill="#54CC44"/>
<polygon points="1145.2,1982.1 1113.7,1981.4 1113.7,2000.1 1145.2,2000.8" fill="#46B03A"/>
<polygon points="1146.3,1963.2 1145.2,1982.1 1145.2,2000.8 1146.3,1981.9" fill="#3A9830"/>
<polygon points="1145.2,1982.1 1113.7,1981.4 1114.8,1962.5 1146.3,1963.2" fill="#54CC44"/>
<polygon points="1024.6,1997.3 992.7,1988.4 992.7,2009.3 1024.6,2018.2" fill="#DC434C"/>
<polygon points="1039.5,1978.2 1024.6,1997.3 1024.6,2018.2 1039.5,1999.1" fill="#C2363F"/>
<polygon points="1024.6,1997.3 992.7,1988.4 1007.6,1969.2 1039.5,1978.2" fill="#F4565E"/>
<polygon points="1064.9,2004.9 1030.5,2000.5 1030.5,2021.4 1064.9,2025.8" fill="#3F7EC6"/>
<polygon points="1072.3,1984.2 1064.9,2004.9 1064.9,2025.8 1072.3,2005.1" fill="#346BAE"/>
<polygon points="1064.9,2004.9 1030.5,2000.5 1037.8,1979.8 1072.3,1984.2" fill="#4C92DE"/>
</g>
<g clip-path="url(#cpRS)">
<rect x="888" y="2110" width="332" height="262" fill="url(#gRS)"/>
<polygon points="922.3,2327 1189.4,2330.9 1195.3,2338.8 1185.5,2343.7 928.2,2340.7" fill="#2a2a29" opacity="0.6" filter="url(#bl3)"/>
<polygon points="933.1,2140.9 981.2,2140.9 980.2,2183.6 979.3,2222.9 975.3,2267.1 973.8,2313.2 918.8,2311.3 921.3,2266.1 928.2,2183.6" fill="#FADC14"/>
<polygon points="918.8,2311.3 973.8,2313.2 975.3,2336.8 925.2,2334.8" fill="#D2B41C"/>
<polygon points="1128.1,2142.3 1176.7,2142.3 1179.6,2182.6 1183.5,2222.9 1188.4,2268 1193.4,2315.2 1136.4,2314.2 1136.4,2268 1131.5,2222.9 1130.1,2182.6" fill="#FADC14"/>
<polygon points="1136.4,2314.2 1193.4,2315.2 1184.5,2337.8 1133.4,2338.8" fill="#D2B41C"/>
<polygon points="982.2,2140.4 1127.6,2141.3 1130.5,2222.9 1130.9,2268 1136.4,2313.2 973.8,2313.2 977.3,2222.9" fill="#5B8FD9"/>
<polygon points="973.8,2313.2 1136.4,2313.2 1133.4,2338.8 975.3,2337.8" fill="#4777C4"/>
<polygon points="980.2,2181.6 1029.3,2180.6 1028.4,2222.9 978.3,2222.9" fill="#4f86d3"/>
<polygon points="1080.4,2182.6 1130.5,2182.6 1130.5,2222.9 1079.4,2222.9" fill="#4f86d3"/>
<polygon points="1030.7,2181.2 1080,2181.2 1079.4,2222.9 1078.4,2267.1 1027,2267.1 1028.8,2222.9" fill="#EA4757"/>
<polygon points="1028.8,2222.5 1079.4,2222.5 1079.4,2224 1028.8,2224" fill="#d63c4c"/>
<path d="M1030.7 2140.9L1030.3 2180.6 M1079.4 2141.3L1080 2181.2 M1028.8 2268L1027.4 2338.4 M1081.4 2268L1080.4 2338.8" stroke="#3f6cb4" stroke-width="1.2" fill="none"/>
<path d="M981.2 2181.2L1130.1 2182 M978.3 2222.9L1130.9 2223.4 M975.3 2267.6L1136 2268.4" stroke="#3f6cb4" stroke-width="1" fill="none" opacity="0.8"/>
<path d="M928.6 2182.6L980.2 2183.2 M923.3 2222.5L978.9 2222.9 M921.3 2266.1L975.3 2267.1 M1130.1 2182.6L1179.6 2183 M1131.5 2222.9L1183.5 2223.3 M1136.4 2268L1188.4 2268.4" stroke="#d8b810" stroke-width="1" fill="none" opacity="0.8"/>
</g>
<g clip-path="url(#cpRK)">
<rect x="1325" y="1785" width="638" height="591" fill="url(#gRK)"/>
<polygon points="1443.2,2261.5 1831.4,2276.5 1857.5,2246.6 1842.6,2220.5 1432,2209.3" fill="#2b2b2c" opacity="0.55" filter="url(#bl8)"/>
<polygon points="1480.5,1910.6 1548.4,1913.6 1544,1974.1 1474.9,1968.5" fill="#FF6470"/>
<polygon points="1549.6,1917.4 1618.6,1917.4 1614.9,1974.1 1545.8,1974.1" fill="#F95A66"/>
<polygon points="1621.6,1915.1 1689.5,1916.2 1687.7,1974.1 1616.8,1974.1" fill="#FF6470"/>
<polygon points="1691.4,1920 1759.7,1920 1757.5,1977.8 1687.7,1977.8" fill="#FFF934"/>
<polygon points="1764.2,1925.6 1835.1,1927.4 1833.3,1989 1762.3,1983.4" fill="#FF6470"/>
<polygon points="1465.6,1968.5 1538.4,1972.2 1532.8,2033.8 1455.1,2029.3" fill="#FFF934"/>
<polygon points="1540.2,1974.1 1611.2,1974.1 1607.4,2037.6 1534.6,2037.6" fill="#FF6470"/>
<polygon points="1613,1974.1 1683.9,1974.1 1681.3,2037.6 1607.4,2037.6" fill="#F95A66"/>
<polygon points="1685.8,1979.7 1756.7,1979.7 1754.9,2039.4 1681.3,2039.4" fill="#FF6470"/>
<polygon points="1758.6,1983.4 1830.6,1983.4 1829.5,2037.6 1756,2037.6" fill="#F95A66"/>
<polygon points="1450.6,2033.1 1528.3,2033.8 1521.6,2101 1441.3,2097.3" fill="#7AE86C"/>
<polygon points="1527.2,2041.3 1603.7,2039.4 1600,2102.9 1521.6,2102.9" fill="#6CDE5E"/>
<polygon points="1607.4,2035.7 1680.2,2037.6 1678.3,2102.9 1601.8,2102.9" fill="#7AE86C"/>
<polygon points="1682.1,2041.3 1756.7,2041.3 1754.9,2104.7 1679.1,2104.7" fill="#6CDE5E"/>
<polygon points="1759.7,2037.6 1835.1,2039.4 1834.4,2110.3 1756.7,2104.7" fill="#7AE86C"/>
<polygon points="1441.3,2099.1 1519.7,2101.4 1510.4,2169.3 1428.2,2166.3" fill="#7AE86C"/>
<polygon points="1428.2,2166.3 1510.4,2169.3 1516,2223.4 1441.3,2220.5" fill="#4EBA48"/>
<polygon points="1519.7,2102.1 1599.2,2104.4 1594.4,2169.3 1510.4,2166.3" fill="#86EC78"/>
<polygon points="1510.4,2166.3 1594.4,2169.3 1597,2225.7 1516,2222.7" fill="#56C04E"/>
<polygon points="1599.2,2105.1 1678.3,2107.4 1674.6,2169.3 1594.4,2166.3" fill="#7AE86C"/>
<polygon points="1594.4,2166.3 1674.6,2169.3 1675.4,2227.9 1597,2224.9" fill="#4EBA48"/>
<polygon points="1678.3,2108.1 1756,2110.3 1754.9,2169.3 1674.6,2166.3" fill="#86EC78"/>
<polygon points="1674.6,2166.3 1754.9,2169.3 1754.9,2230.2 1675.4,2227.2" fill="#56C04E"/>
<polygon points="1756,2111.1 1838.1,2113.3 1839.6,2165.6 1754.9,2162.6" fill="#7AE86C"/>
<polygon points="1754.9,2162.6 1839.6,2165.6 1837,2232.4 1754.9,2229.4" fill="#4EBA48"/>
<polygon points="1448.8,2219.7 1527.2,2224.2 1530.9,2270.9 1460,2267.1" fill="#F5D71E"/>
<polygon points="1527.2,2226.1 1600,2227.9 1603.7,2276.5 1530.9,2272.7" fill="#5590DC"/>
<polygon points="1600,2227.9 1674.6,2231.7 1674.6,2280.2 1603.7,2278.3" fill="#4F8AD8"/>
<polygon points="1676.5,2229.8 1753,2227.9 1749.3,2282.1 1676.5,2280.2" fill="#5590DC"/>
<polygon points="1753,2233.5 1827.7,2235.4 1822.1,2282.1 1753,2280.2" fill="#F5D71E"/>
</g>
<polygon points="830.6,543.8 1000.5,543.8 1000.5,701.4 830.6,701.4" fill="#7030A0"/>
<polygon points="830.6,543.8 888.8,462.8 1058.7,462.8 1000.5,543.8" fill="#7030A0"/>
<polygon points="1000.5,543.8 1058.7,462.8 1058.7,620.4 1000.5,701.4" fill="#7030A0"/>
<path d="M830.6 543.8L830.6 701.4M830.6 543.8L1000.5 543.8M830.6 543.8L888.8 462.8M830.6 543.8L1000.5 543.8M1000.5 543.8L1058.7 462.8M1000.5 543.8L1000.5 701.4M864.6 543.8L864.6 701.4M830.6 575.3L1000.5 575.3M864.6 543.8L922.8 462.8M842.2 527.6L1012.1 527.6M1000.5 575.3L1058.7 494.3M1012.1 527.6L1012.1 685.2M898.6 543.8L898.6 701.4M830.6 606.8L1000.5 606.8M898.6 543.8L956.8 462.8M853.9 511.4L1023.8 511.4M1000.5 606.8L1058.7 525.8M1023.8 511.4L1023.8 669M932.5 543.8L932.5 701.4M830.6 638.4L1000.5 638.4M932.5 543.8L990.7 462.8M865.5 495.2L1035.4 495.2M1000.5 638.4L1058.7 557.4M1035.4 495.2L1035.4 652.8M966.5 543.8L966.5 701.4M830.6 669.9L1000.5 669.9M966.5 543.8L1024.7 462.8M877.2 479L1047.1 479M1000.5 669.9L1058.7 588.9M1047.1 479L1047.1 636.6M1000.5 543.8L1000.5 701.4M830.6 701.4L1000.5 701.4M1000.5 543.8L1058.7 462.8M888.8 462.8L1058.7 462.8M1000.5 701.4L1058.7 620.4M1058.7 462.8L1058.7 620.4" stroke="#DCCDF2" stroke-width="1.5" fill="none"/>
<rect x="4" y="3" width="731.5" height="1032" fill="none" stroke="#5B9BD5" stroke-width="3.6" stroke-dasharray="33.5 16.5" stroke-dashoffset="-8"/>
<rect x="748.5" y="5.5" width="1285" height="1031.5" fill="none" stroke="#ED7D31" stroke-width="3.6" stroke-dasharray="33.5 16.5" stroke-dashoffset="-8"/>
<rect x="3" y="1051" width="2030.5" height="681.5" fill="none" stroke="#70AD47" stroke-width="3.6" stroke-dasharray="33.5 16.5" stroke-dashoffset="-8"/>
<rect x="2.5" y="1747" width="2030" height="712.5" fill="none" stroke="#000" stroke-width="3.6" stroke-dasharray="33.5 16.5" stroke-dashoffset="-8"/>
<rect x="50" y="26" width="496" height="94" rx="21" fill="#BDD7EE" filter="url(#sh)"/>
<text x="82" y="89.8" font-size="50" font-weight="bold" text-anchor="start" fill="#000" textLength="435" lengthAdjust="spacingAndGlyphs">1.Task Environment</text>
<rect x="781.6" y="28.5" width="425.4" height="94.1" rx="21" fill="#F8CBAD" filter="url(#sh)"/>
<text x="911" y="91.5" font-size="50" font-weight="bold" text-anchor="start" fill="#000" textLength="166" lengthAdjust="spacingAndGlyphs">2.Policy</text>
<rect x="45.6" y="1071" width="330.9" height="81.9" rx="21" fill="#A9D18E" filter="url(#sh)"/>
<text x="75.3" y="1126.6" font-size="50" font-weight="bold" text-anchor="start" fill="#000" textLength="269" lengthAdjust="spacingAndGlyphs">3.Simulation</text>
<rect x="50.3" y="1781.3" width="330.6" height="83.2" rx="21" fill="#FFE699" filter="url(#sh)"/>
<text x="89.7" y="1837.3" font-size="50" font-weight="bold" text-anchor="start" fill="#000" textLength="251.8" lengthAdjust="spacingAndGlyphs">4. Sim2Real</text>
<text x="203.6" y="595.4" font-size="46" text-anchor="start" fill="#000" textLength="349" lengthAdjust="spacingAndGlyphs">Action Breakdown</text>
<text x="148" y="677" font-size="45" text-anchor="start" fill="#000" textLength="88.4" lengthAdjust="spacingAndGlyphs">Push</text>
<text x="492.5" y="677" font-size="45" text-anchor="start" fill="#000" textLength="107.5" lengthAdjust="spacingAndGlyphs">Grasp</text>
<path d="M379 517.5 C379 545 350 538 300 540 C215 545 192 575 185 622" fill="none" stroke="#000" stroke-width="2.8"/>
<path d="M379 517.5 C379 545 408 538 458 540 C540 545 562 575 569 622" fill="none" stroke="#000" stroke-width="2.8"/>
<polygon points="178.5,619 191.5,618 185.5,634" fill="#000"/>
<polygon points="562.5,618 575.5,619 569,634" fill="#000"/>
<line x1="685" y1="572" x2="756" y2="572" stroke="#000" stroke-width="8" stroke-linecap="round"/>
<polygon points="750,558 750,586 777,572" fill="#000"/>
<line x1="1395.4" y1="1010" x2="1395.4" y2="1078" stroke="#000" stroke-width="8" stroke-linecap="round"/>
<polygon points="1381,1075 1409.8,1075 1395.4,1102.5" fill="#000"/>
<line x1="755" y1="1691" x2="755" y2="1762" stroke="#000" stroke-width="8" stroke-linecap="round"/>
<polygon points="740.6,1759 769.4,1759 755,1786.5" fill="#000"/>
<line x1="952" y1="407" x2="952" y2="442" stroke="#000" stroke-width="3"/>
<polygon points="945.7,440 958.3,440 952,453" fill="#000"/>
<rect x="782" y="454" width="567.4" height="259.5" fill="none" stroke="#000" stroke-width="3.4" stroke-dasharray="31 14" stroke-dashoffset="-7"/>
<text x="1087" y="566.5" font-size="50" text-anchor="start" fill="#000" textLength="238" lengthAdjust="spacingAndGlyphs">Point Cloud</text>
<text x="1138" y="627" font-size="50" text-anchor="start" fill="#000" textLength="149" lengthAdjust="spacingAndGlyphs">Feature</text>
<line x1="1051" y1="723" x2="1051" y2="813" stroke="#000" stroke-width="3"/>
<polygon points="1044.2,811 1057.8,811 1051,826" fill="#000"/>
<rect x="853" y="835" width="402" height="139" rx="26" fill="#CCFFFF" filter="url(#sh2)"/>
<rect x="853" y="835" width="402" height="139" rx="26" fill="#CCFFFF" stroke="#000" stroke-width="3.1" stroke-dasharray="22.5 10.5"/>
<text x="924" y="889" font-size="50" text-anchor="start" fill="#000" textLength="258" lengthAdjust="spacingAndGlyphs">Convolution,</text>
<text x="976.4" y="948.8" font-size="50" text-anchor="start" fill="#000" textLength="153" lengthAdjust="spacingAndGlyphs">Pooling</text>
<path d="M1291 908.5 C1340 915 1370 915 1400 908.5 C1440 898 1458 870 1452 820 C1446 770 1420 700 1408 640 C1398 585 1420 540 1470 515 C1500 498 1525 486 1546 477" fill="none" stroke="#000" stroke-width="3.1"/>
<polygon points="1537.5,470.5 1544,484.5 1556.5,472.5" fill="#000"/>
<text x="1545.4" y="62.3" font-size="50" text-anchor="start" fill="#000" textLength="431.6" lengthAdjust="spacingAndGlyphs">Conditional Selection</text>
<text x="1651" y="101.8" font-size="50" text-anchor="start" fill="#000" textLength="221.6" lengthAdjust="spacingAndGlyphs">Parameters</text>
<rect x="1571.5" y="123.5" width="367.8" height="152" rx="24" fill="#FFA07A" stroke="#000" stroke-width="3.1" stroke-dasharray="22.5 10.5"/>
<text x="1657.5" y="183" font-size="50" text-anchor="start" fill="#000" textLength="196.5" lengthAdjust="spacingAndGlyphs">Condition</text>
<text x="1637" y="244.7" font-size="50" text-anchor="start" fill="#000" textLength="236" lengthAdjust="spacingAndGlyphs">Information</text>
<line x1="1762" y1="283" x2="1762" y2="379" stroke="#000" stroke-width="3"/>
<polygon points="1755.2,377 1768.8,377 1762,392" fill="#000"/>
<text x="1781" y="346" font-size="50" text-anchor="start" fill="#000" textLength="139" lengthAdjust="spacingAndGlyphs">Concat</text>
<rect x="1571.5" y="407.4" width="367.8" height="127.6" rx="24" fill="#C5E0B4" stroke="#000" stroke-width="3.1" stroke-dasharray="22.5 10.5"/>
<text x="1622.7" y="485.4" font-size="50" text-anchor="start" fill="#000" textLength="264.3" lengthAdjust="spacingAndGlyphs">Pixel Feature</text>
<line x1="1762" y1="547.6" x2="1762" y2="610.8" stroke="#000" stroke-width="3"/>
<polygon points="1755.2,608.8 1768.8,608.8 1762,623.8" fill="#000"/>
<rect x="1571.5" y="633.7" width="367.8" height="127.1" rx="24" fill="#FFFF00" stroke="#000" stroke-width="3.1" stroke-dasharray="22.5 10.5"/>
<text x="1632.6" y="712.5" font-size="50" text-anchor="start" fill="#000" textLength="247.4" lengthAdjust="spacingAndGlyphs">Transformer</text>
<line x1="1762" y1="767.4" x2="1762" y2="837" stroke="#000" stroke-width="3"/>
<polygon points="1755.2,835 1768.8,835 1762,850" fill="#000"/>
<rect x="1571.5" y="858.3" width="367.8" height="127.1" rx="24" fill="#F4B183" stroke="#000" stroke-width="3.1" stroke-dasharray="22.5 10.5"/>
<text x="1589.8" y="936.7" font-size="50" text-anchor="start" fill="#000" textLength="332.2" lengthAdjust="spacingAndGlyphs">Action Selection</text>
<text x="178.3" y="1653.2" font-size="50" text-anchor="start" fill="#000" textLength="490.5" lengthAdjust="spacingAndGlyphs">Simulation Environment</text>
<text x="891" y="1397.9" font-size="50" text-anchor="start" fill="#000" textLength="325" lengthAdjust="spacingAndGlyphs">disorderly scene</text>
<text x="803.6" y="1715" font-size="50" text-anchor="start" fill="#000" textLength="500.4" lengthAdjust="spacingAndGlyphs">object-surrounding scene</text>
<text x="1534.8" y="1714.6" font-size="50" text-anchor="start" fill="#000" textLength="287.2" lengthAdjust="spacingAndGlyphs">stacking scene</text>
<text x="131.3" y="2431.4" font-size="50" text-anchor="start" fill="#000" textLength="498.2" lengthAdjust="spacingAndGlyphs">Real-world Environment</text>
<text x="890.8" y="2094.5" font-size="50" text-anchor="start" fill="#000" textLength="325.2" lengthAdjust="spacingAndGlyphs">disorderly scene</text>
<text x="809.7" y="2429.4" font-size="50" text-anchor="start" fill="#000" textLength="502.1" lengthAdjust="spacingAndGlyphs">object-surrounding scene</text>
<text x="1489.9" y="2436.4" font-size="50" text-anchor="start" fill="#000" textLength="287.9" lengthAdjust="spacingAndGlyphs">stacking scene</text>
<path d="M1436 1405.5 C1436 1290 1450 1215 1618 1215" fill="none" stroke="#000" stroke-width="3.1"/>
<polygon points="1616,1208 1616,1222 1631,1215" fill="#000"/>
</svg>
</body></html>
